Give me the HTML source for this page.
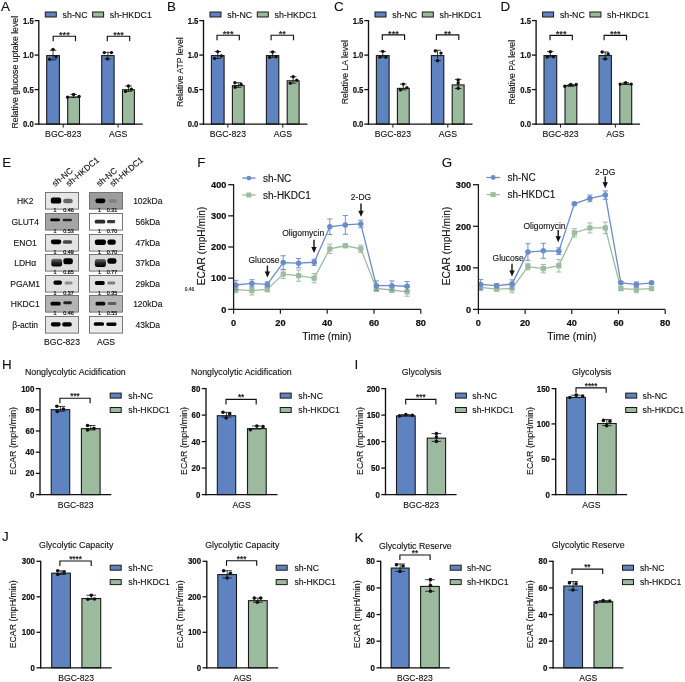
<!DOCTYPE html><html><head><meta charset="utf-8"><style>html,body{margin:0;padding:0;background:#fff;}svg{display:block;will-change:transform;}</style></head><body><svg width="685" height="682" viewBox="0 0 685 682" font-family='"Liberation Sans", sans-serif'>
<rect width="685" height="682" fill="#fff"/>
<rect x="46.70" y="55.60" width="12.70" height="68.50" fill="#5f83c0" stroke="#1a1a1a" stroke-width="1.1"/>
<line x1="53.05" y1="50.27" x2="53.05" y2="59.93" stroke="#1a1a1a" stroke-width="0.85"/>
<line x1="49.75" y1="50.27" x2="56.35" y2="50.27" stroke="#1a1a1a" stroke-width="0.85"/>
<line x1="49.75" y1="59.93" x2="56.35" y2="59.93" stroke="#1a1a1a" stroke-width="0.85"/>
<circle cx="53.05" cy="49.37" r="1.7" fill="#111"/>
<circle cx="49.55" cy="59.24" r="1.7" fill="#111"/>
<circle cx="56.05" cy="57.03" r="1.7" fill="#111"/>
<rect x="67.70" y="97.00" width="11.80" height="27.10" fill="#9cba9d" stroke="#1a1a1a" stroke-width="1.1"/>
<line x1="73.60" y1="94.43" x2="73.60" y2="97.53" stroke="#1a1a1a" stroke-width="0.85"/>
<line x1="70.30" y1="94.43" x2="76.90" y2="94.43" stroke="#1a1a1a" stroke-width="0.85"/>
<line x1="70.30" y1="97.53" x2="76.90" y2="97.53" stroke="#1a1a1a" stroke-width="0.85"/>
<circle cx="73.60" cy="94.43" r="1.7" fill="#111"/>
<circle cx="67.60" cy="97.19" r="1.7" fill="#111"/>
<circle cx="79.10" cy="96.50" r="1.7" fill="#111"/>
<rect x="101.70" y="55.60" width="12.40" height="68.50" fill="#5f83c0" stroke="#1a1a1a" stroke-width="1.1"/>
<line x1="107.90" y1="52.34" x2="107.90" y2="58.89" stroke="#1a1a1a" stroke-width="0.85"/>
<line x1="104.60" y1="52.34" x2="111.20" y2="52.34" stroke="#1a1a1a" stroke-width="0.85"/>
<line x1="104.60" y1="58.89" x2="111.20" y2="58.89" stroke="#1a1a1a" stroke-width="0.85"/>
<circle cx="104.20" cy="52.62" r="1.7" fill="#111"/>
<circle cx="111.50" cy="52.62" r="1.7" fill="#111"/>
<circle cx="107.40" cy="58.89" r="1.7" fill="#111"/>
<rect x="122.50" y="89.75" width="11.90" height="34.34" fill="#9cba9d" stroke="#1a1a1a" stroke-width="1.1"/>
<line x1="128.45" y1="85.94" x2="128.45" y2="91.39" stroke="#1a1a1a" stroke-width="0.85"/>
<line x1="125.15" y1="85.94" x2="131.75" y2="85.94" stroke="#1a1a1a" stroke-width="0.85"/>
<line x1="125.15" y1="91.39" x2="131.75" y2="91.39" stroke="#1a1a1a" stroke-width="0.85"/>
<circle cx="128.45" cy="85.94" r="1.7" fill="#111"/>
<circle cx="125.55" cy="91.39" r="1.7" fill="#111"/>
<circle cx="131.35" cy="89.25" r="1.7" fill="#111"/>
<line x1="38.80" y1="20.00" x2="38.80" y2="124.70" stroke="#111" stroke-width="1.35"/>
<line x1="38.20" y1="124.10" x2="142.80" y2="124.10" stroke="#111" stroke-width="1.35"/>
<line x1="34.60" y1="124.10" x2="38.80" y2="124.10" stroke="#111" stroke-width="1.3"/>
<text transform="translate(33.70 127.30) scale(0.87 1)" font-size="8.9" text-anchor="end" font-weight="bold" stroke="#111" stroke-width="0.18" fill="#111" >0.0</text>
<line x1="34.60" y1="89.60" x2="38.80" y2="89.60" stroke="#111" stroke-width="1.3"/>
<text transform="translate(33.70 92.80) scale(0.87 1)" font-size="8.9" text-anchor="end" font-weight="bold" stroke="#111" stroke-width="0.18" fill="#111" >0.5</text>
<line x1="34.60" y1="55.10" x2="38.80" y2="55.10" stroke="#111" stroke-width="1.3"/>
<text transform="translate(33.70 58.30) scale(0.87 1)" font-size="8.9" text-anchor="end" font-weight="bold" stroke="#111" stroke-width="0.18" fill="#111" >1.0</text>
<line x1="34.60" y1="20.60" x2="38.80" y2="20.60" stroke="#111" stroke-width="1.3"/>
<text transform="translate(33.70 23.80) scale(0.87 1)" font-size="8.9" text-anchor="end" font-weight="bold" stroke="#111" stroke-width="0.18" fill="#111" >1.5</text>
<line x1="63.20" y1="124.10" x2="63.20" y2="127.60" stroke="#1a1a1a" stroke-width="1.0"/>
<text transform="translate(63.20 137.30)" font-size="8.7" text-anchor="middle" stroke="#111" stroke-width="0.12" fill="#111" >BGC-823</text>
<line x1="118.10" y1="124.10" x2="118.10" y2="127.60" stroke="#1a1a1a" stroke-width="1.0"/>
<text transform="translate(118.10 137.30)" font-size="8.7" text-anchor="middle" stroke="#111" stroke-width="0.12" fill="#111" >AGS</text>
<text transform="translate(18.00 72.20) rotate(-90)" font-size="8.7" text-anchor="middle" stroke="#111" stroke-width="0.12" fill="#111" >Relative glucose uptake level</text>
<polyline points="53.20,41.20 53.20,36.20 75.50,36.20 75.50,41.20" fill="none" stroke="#111" stroke-width="1.15"/>
<text transform="translate(64.35 38.10)" font-size="9.2" text-anchor="middle" stroke="#111" stroke-width="0.2" fill="#111" >***</text>
<polyline points="107.30,41.20 107.30,36.20 129.70,36.20 129.70,41.20" fill="none" stroke="#111" stroke-width="1.15"/>
<text transform="translate(118.50 38.10)" font-size="9.2" text-anchor="middle" stroke="#111" stroke-width="0.2" fill="#111" >***</text>
<rect x="45.30" y="12.00" width="11.00" height="5.00" fill="#5f83c0" stroke="#1a1a1a" stroke-width="1.0"/>
<text transform="translate(62.60 17.67)" font-size="8.8" text-anchor="start" stroke="#111" stroke-width="0.12" fill="#111" >sh-NC</text>
<rect x="92.60" y="12.00" width="11.00" height="5.00" fill="#9cba9d" stroke="#1a1a1a" stroke-width="1.0"/>
<text transform="translate(109.80 17.67)" font-size="8.8" text-anchor="start" stroke="#111" stroke-width="0.12" fill="#111" >sh-HKDC1</text>
<rect x="211.40" y="55.60" width="12.70" height="68.50" fill="#5f83c0" stroke="#1a1a1a" stroke-width="1.1"/>
<line x1="217.75" y1="51.58" x2="217.75" y2="58.41" stroke="#1a1a1a" stroke-width="0.85"/>
<line x1="214.45" y1="51.58" x2="221.05" y2="51.58" stroke="#1a1a1a" stroke-width="0.85"/>
<line x1="214.45" y1="58.41" x2="221.05" y2="58.41" stroke="#1a1a1a" stroke-width="0.85"/>
<circle cx="217.75" cy="51.58" r="1.7" fill="#111"/>
<circle cx="214.55" cy="58.41" r="1.7" fill="#111"/>
<circle cx="221.35" cy="56.00" r="1.7" fill="#111"/>
<rect x="232.40" y="85.61" width="11.80" height="38.48" fill="#9cba9d" stroke="#1a1a1a" stroke-width="1.1"/>
<line x1="238.30" y1="82.70" x2="238.30" y2="87.32" stroke="#1a1a1a" stroke-width="0.85"/>
<line x1="235.00" y1="82.70" x2="241.60" y2="82.70" stroke="#1a1a1a" stroke-width="0.85"/>
<line x1="235.00" y1="87.32" x2="241.60" y2="87.32" stroke="#1a1a1a" stroke-width="0.85"/>
<circle cx="234.90" cy="82.70" r="1.7" fill="#111"/>
<circle cx="235.20" cy="87.32" r="1.7" fill="#111"/>
<circle cx="241.10" cy="84.42" r="1.7" fill="#111"/>
<rect x="266.40" y="55.60" width="12.40" height="68.50" fill="#5f83c0" stroke="#1a1a1a" stroke-width="1.1"/>
<line x1="272.60" y1="52.00" x2="272.60" y2="57.38" stroke="#1a1a1a" stroke-width="0.85"/>
<line x1="269.30" y1="52.00" x2="275.90" y2="52.00" stroke="#1a1a1a" stroke-width="0.85"/>
<line x1="269.30" y1="57.38" x2="275.90" y2="57.38" stroke="#1a1a1a" stroke-width="0.85"/>
<circle cx="272.60" cy="52.00" r="1.7" fill="#111"/>
<circle cx="269.60" cy="57.38" r="1.7" fill="#111"/>
<circle cx="276.20" cy="56.69" r="1.7" fill="#111"/>
<rect x="287.20" y="80.78" width="11.90" height="43.31" fill="#9cba9d" stroke="#1a1a1a" stroke-width="1.1"/>
<line x1="293.15" y1="76.77" x2="293.15" y2="83.18" stroke="#1a1a1a" stroke-width="0.85"/>
<line x1="289.85" y1="76.77" x2="296.45" y2="76.77" stroke="#1a1a1a" stroke-width="0.85"/>
<line x1="289.85" y1="83.18" x2="296.45" y2="83.18" stroke="#1a1a1a" stroke-width="0.85"/>
<circle cx="293.15" cy="76.77" r="1.7" fill="#111"/>
<circle cx="290.25" cy="83.18" r="1.7" fill="#111"/>
<circle cx="296.75" cy="80.28" r="1.7" fill="#111"/>
<line x1="203.50" y1="20.00" x2="203.50" y2="124.70" stroke="#111" stroke-width="1.35"/>
<line x1="202.90" y1="124.10" x2="307.50" y2="124.10" stroke="#111" stroke-width="1.35"/>
<line x1="199.30" y1="124.10" x2="203.50" y2="124.10" stroke="#111" stroke-width="1.3"/>
<text transform="translate(198.40 127.30) scale(0.87 1)" font-size="8.9" text-anchor="end" font-weight="bold" stroke="#111" stroke-width="0.18" fill="#111" >0.0</text>
<line x1="199.30" y1="89.60" x2="203.50" y2="89.60" stroke="#111" stroke-width="1.3"/>
<text transform="translate(198.40 92.80) scale(0.87 1)" font-size="8.9" text-anchor="end" font-weight="bold" stroke="#111" stroke-width="0.18" fill="#111" >0.5</text>
<line x1="199.30" y1="55.10" x2="203.50" y2="55.10" stroke="#111" stroke-width="1.3"/>
<text transform="translate(198.40 58.30) scale(0.87 1)" font-size="8.9" text-anchor="end" font-weight="bold" stroke="#111" stroke-width="0.18" fill="#111" >1.0</text>
<line x1="199.30" y1="20.60" x2="203.50" y2="20.60" stroke="#111" stroke-width="1.3"/>
<text transform="translate(198.40 23.80) scale(0.87 1)" font-size="8.9" text-anchor="end" font-weight="bold" stroke="#111" stroke-width="0.18" fill="#111" >1.5</text>
<line x1="227.90" y1="124.10" x2="227.90" y2="127.60" stroke="#1a1a1a" stroke-width="1.0"/>
<text transform="translate(227.90 137.30)" font-size="8.7" text-anchor="middle" stroke="#111" stroke-width="0.12" fill="#111" >BGC-823</text>
<line x1="282.80" y1="124.10" x2="282.80" y2="127.60" stroke="#1a1a1a" stroke-width="1.0"/>
<text transform="translate(282.80 137.30)" font-size="8.7" text-anchor="middle" stroke="#111" stroke-width="0.12" fill="#111" >AGS</text>
<text transform="translate(182.70 72.20) rotate(-90)" font-size="8.7" text-anchor="middle" stroke="#111" stroke-width="0.12" fill="#111" >Relative ATP level</text>
<polyline points="217.00,40.20 217.00,35.20 239.30,35.20 239.30,40.20" fill="none" stroke="#111" stroke-width="1.15"/>
<text transform="translate(228.15 37.10)" font-size="9.2" text-anchor="middle" stroke="#111" stroke-width="0.2" fill="#111" >***</text>
<polyline points="271.10,40.20 271.10,35.20 293.50,35.20 293.50,40.20" fill="none" stroke="#111" stroke-width="1.15"/>
<text transform="translate(282.30 37.10)" font-size="9.2" text-anchor="middle" stroke="#111" stroke-width="0.2" fill="#111" >**</text>
<rect x="210.00" y="12.00" width="11.00" height="5.00" fill="#5f83c0" stroke="#1a1a1a" stroke-width="1.0"/>
<text transform="translate(227.30 17.67)" font-size="8.8" text-anchor="start" stroke="#111" stroke-width="0.12" fill="#111" >sh-NC</text>
<rect x="257.30" y="12.00" width="11.00" height="5.00" fill="#9cba9d" stroke="#1a1a1a" stroke-width="1.0"/>
<text transform="translate(274.50 17.67)" font-size="8.8" text-anchor="start" stroke="#111" stroke-width="0.12" fill="#111" >sh-HKDC1</text>
<rect x="376.40" y="55.60" width="12.70" height="68.50" fill="#5f83c0" stroke="#1a1a1a" stroke-width="1.1"/>
<line x1="382.75" y1="51.37" x2="382.75" y2="57.17" stroke="#1a1a1a" stroke-width="0.85"/>
<line x1="379.45" y1="51.37" x2="386.05" y2="51.37" stroke="#1a1a1a" stroke-width="0.85"/>
<line x1="379.45" y1="57.17" x2="386.05" y2="57.17" stroke="#1a1a1a" stroke-width="0.85"/>
<circle cx="382.75" cy="51.37" r="1.7" fill="#111"/>
<circle cx="379.95" cy="57.17" r="1.7" fill="#111"/>
<circle cx="385.95" cy="57.17" r="1.7" fill="#111"/>
<rect x="397.40" y="88.38" width="11.80" height="35.72" fill="#9cba9d" stroke="#1a1a1a" stroke-width="1.1"/>
<line x1="403.30" y1="84.08" x2="403.30" y2="89.88" stroke="#1a1a1a" stroke-width="0.85"/>
<line x1="400.00" y1="84.08" x2="406.60" y2="84.08" stroke="#1a1a1a" stroke-width="0.85"/>
<line x1="400.00" y1="89.88" x2="406.60" y2="89.88" stroke="#1a1a1a" stroke-width="0.85"/>
<circle cx="403.30" cy="84.08" r="1.7" fill="#111"/>
<circle cx="400.40" cy="89.88" r="1.7" fill="#111"/>
<circle cx="406.90" cy="87.67" r="1.7" fill="#111"/>
<rect x="431.40" y="55.60" width="12.40" height="68.50" fill="#5f83c0" stroke="#1a1a1a" stroke-width="1.1"/>
<line x1="437.60" y1="50.27" x2="437.60" y2="60.62" stroke="#1a1a1a" stroke-width="0.85"/>
<line x1="434.30" y1="50.27" x2="440.90" y2="50.27" stroke="#1a1a1a" stroke-width="0.85"/>
<line x1="434.30" y1="60.62" x2="440.90" y2="60.62" stroke="#1a1a1a" stroke-width="0.85"/>
<circle cx="435.30" cy="50.89" r="1.7" fill="#111"/>
<circle cx="441.00" cy="53.10" r="1.7" fill="#111"/>
<circle cx="437.60" cy="60.69" r="1.7" fill="#111"/>
<rect x="452.20" y="84.92" width="11.90" height="39.17" fill="#9cba9d" stroke="#1a1a1a" stroke-width="1.1"/>
<line x1="458.15" y1="79.39" x2="458.15" y2="88.50" stroke="#1a1a1a" stroke-width="0.85"/>
<line x1="454.85" y1="79.39" x2="461.45" y2="79.39" stroke="#1a1a1a" stroke-width="0.85"/>
<line x1="454.85" y1="88.50" x2="461.45" y2="88.50" stroke="#1a1a1a" stroke-width="0.85"/>
<circle cx="458.15" cy="79.94" r="1.7" fill="#111"/>
<circle cx="458.15" cy="82.91" r="1.7" fill="#111"/>
<circle cx="458.15" cy="88.22" r="1.7" fill="#111"/>
<line x1="368.50" y1="20.00" x2="368.50" y2="124.70" stroke="#111" stroke-width="1.35"/>
<line x1="367.90" y1="124.10" x2="472.50" y2="124.10" stroke="#111" stroke-width="1.35"/>
<line x1="364.30" y1="124.10" x2="368.50" y2="124.10" stroke="#111" stroke-width="1.3"/>
<text transform="translate(363.40 127.30) scale(0.87 1)" font-size="8.9" text-anchor="end" font-weight="bold" stroke="#111" stroke-width="0.18" fill="#111" >0.0</text>
<line x1="364.30" y1="89.60" x2="368.50" y2="89.60" stroke="#111" stroke-width="1.3"/>
<text transform="translate(363.40 92.80) scale(0.87 1)" font-size="8.9" text-anchor="end" font-weight="bold" stroke="#111" stroke-width="0.18" fill="#111" >0.5</text>
<line x1="364.30" y1="55.10" x2="368.50" y2="55.10" stroke="#111" stroke-width="1.3"/>
<text transform="translate(363.40 58.30) scale(0.87 1)" font-size="8.9" text-anchor="end" font-weight="bold" stroke="#111" stroke-width="0.18" fill="#111" >1.0</text>
<line x1="364.30" y1="20.60" x2="368.50" y2="20.60" stroke="#111" stroke-width="1.3"/>
<text transform="translate(363.40 23.80) scale(0.87 1)" font-size="8.9" text-anchor="end" font-weight="bold" stroke="#111" stroke-width="0.18" fill="#111" >1.5</text>
<line x1="392.90" y1="124.10" x2="392.90" y2="127.60" stroke="#1a1a1a" stroke-width="1.0"/>
<text transform="translate(392.90 137.30)" font-size="8.7" text-anchor="middle" stroke="#111" stroke-width="0.12" fill="#111" >BGC-823</text>
<line x1="447.80" y1="124.10" x2="447.80" y2="127.60" stroke="#1a1a1a" stroke-width="1.0"/>
<text transform="translate(447.80 137.30)" font-size="8.7" text-anchor="middle" stroke="#111" stroke-width="0.12" fill="#111" >AGS</text>
<text transform="translate(347.70 72.20) rotate(-90)" font-size="8.7" text-anchor="middle" stroke="#111" stroke-width="0.12" fill="#111" >Relative LA level</text>
<polyline points="382.30,39.90 382.30,34.90 404.60,34.90 404.60,39.90" fill="none" stroke="#111" stroke-width="1.15"/>
<text transform="translate(393.45 36.80)" font-size="9.2" text-anchor="middle" stroke="#111" stroke-width="0.2" fill="#111" >***</text>
<polyline points="436.40,39.90 436.40,34.90 458.80,34.90 458.80,39.90" fill="none" stroke="#111" stroke-width="1.15"/>
<text transform="translate(447.60 36.80)" font-size="9.2" text-anchor="middle" stroke="#111" stroke-width="0.2" fill="#111" >**</text>
<rect x="375.00" y="12.00" width="11.00" height="5.00" fill="#5f83c0" stroke="#1a1a1a" stroke-width="1.0"/>
<text transform="translate(392.30 17.67)" font-size="8.8" text-anchor="start" stroke="#111" stroke-width="0.12" fill="#111" >sh-NC</text>
<rect x="422.30" y="12.00" width="11.00" height="5.00" fill="#9cba9d" stroke="#1a1a1a" stroke-width="1.0"/>
<text transform="translate(439.50 17.67)" font-size="8.8" text-anchor="start" stroke="#111" stroke-width="0.12" fill="#111" >sh-HKDC1</text>
<rect x="544.00" y="55.60" width="12.70" height="68.50" fill="#5f83c0" stroke="#1a1a1a" stroke-width="1.1"/>
<line x1="550.35" y1="51.65" x2="550.35" y2="57.03" stroke="#1a1a1a" stroke-width="0.85"/>
<line x1="547.05" y1="51.65" x2="553.65" y2="51.65" stroke="#1a1a1a" stroke-width="0.85"/>
<line x1="547.05" y1="57.03" x2="553.65" y2="57.03" stroke="#1a1a1a" stroke-width="0.85"/>
<circle cx="550.35" cy="51.65" r="1.7" fill="#111"/>
<circle cx="547.25" cy="57.03" r="1.7" fill="#111"/>
<circle cx="553.45" cy="56.69" r="1.7" fill="#111"/>
<rect x="565.00" y="85.61" width="11.80" height="38.48" fill="#9cba9d" stroke="#1a1a1a" stroke-width="1.1"/>
<line x1="570.90" y1="84.42" x2="570.90" y2="86.29" stroke="#1a1a1a" stroke-width="0.85"/>
<line x1="567.60" y1="84.42" x2="574.20" y2="84.42" stroke="#1a1a1a" stroke-width="0.85"/>
<line x1="567.60" y1="86.29" x2="574.20" y2="86.29" stroke="#1a1a1a" stroke-width="0.85"/>
<circle cx="564.80" cy="86.29" r="1.7" fill="#111"/>
<circle cx="570.70" cy="84.42" r="1.7" fill="#111"/>
<circle cx="576.20" cy="84.42" r="1.7" fill="#111"/>
<rect x="599.00" y="55.60" width="12.40" height="68.50" fill="#5f83c0" stroke="#1a1a1a" stroke-width="1.1"/>
<line x1="605.20" y1="52.00" x2="605.20" y2="58.89" stroke="#1a1a1a" stroke-width="0.85"/>
<line x1="601.90" y1="52.00" x2="608.50" y2="52.00" stroke="#1a1a1a" stroke-width="0.85"/>
<line x1="601.90" y1="58.89" x2="608.50" y2="58.89" stroke="#1a1a1a" stroke-width="0.85"/>
<circle cx="602.10" cy="52.00" r="1.7" fill="#111"/>
<circle cx="608.20" cy="54.00" r="1.7" fill="#111"/>
<circle cx="605.20" cy="58.89" r="1.7" fill="#111"/>
<rect x="619.80" y="84.23" width="11.90" height="39.86" fill="#9cba9d" stroke="#1a1a1a" stroke-width="1.1"/>
<line x1="625.75" y1="82.70" x2="625.75" y2="84.08" stroke="#1a1a1a" stroke-width="0.85"/>
<line x1="622.45" y1="82.70" x2="629.05" y2="82.70" stroke="#1a1a1a" stroke-width="0.85"/>
<line x1="622.45" y1="84.08" x2="629.05" y2="84.08" stroke="#1a1a1a" stroke-width="0.85"/>
<circle cx="620.15" cy="84.08" r="1.7" fill="#111"/>
<circle cx="625.55" cy="82.70" r="1.7" fill="#111"/>
<circle cx="631.15" cy="84.08" r="1.7" fill="#111"/>
<line x1="536.10" y1="20.00" x2="536.10" y2="124.70" stroke="#111" stroke-width="1.35"/>
<line x1="535.50" y1="124.10" x2="640.10" y2="124.10" stroke="#111" stroke-width="1.35"/>
<line x1="531.90" y1="124.10" x2="536.10" y2="124.10" stroke="#111" stroke-width="1.3"/>
<text transform="translate(531.00 127.30) scale(0.87 1)" font-size="8.9" text-anchor="end" font-weight="bold" stroke="#111" stroke-width="0.18" fill="#111" >0.0</text>
<line x1="531.90" y1="89.60" x2="536.10" y2="89.60" stroke="#111" stroke-width="1.3"/>
<text transform="translate(531.00 92.80) scale(0.87 1)" font-size="8.9" text-anchor="end" font-weight="bold" stroke="#111" stroke-width="0.18" fill="#111" >0.5</text>
<line x1="531.90" y1="55.10" x2="536.10" y2="55.10" stroke="#111" stroke-width="1.3"/>
<text transform="translate(531.00 58.30) scale(0.87 1)" font-size="8.9" text-anchor="end" font-weight="bold" stroke="#111" stroke-width="0.18" fill="#111" >1.0</text>
<line x1="531.90" y1="20.60" x2="536.10" y2="20.60" stroke="#111" stroke-width="1.3"/>
<text transform="translate(531.00 23.80) scale(0.87 1)" font-size="8.9" text-anchor="end" font-weight="bold" stroke="#111" stroke-width="0.18" fill="#111" >1.5</text>
<line x1="560.50" y1="124.10" x2="560.50" y2="127.60" stroke="#1a1a1a" stroke-width="1.0"/>
<text transform="translate(560.50 137.30)" font-size="8.7" text-anchor="middle" stroke="#111" stroke-width="0.12" fill="#111" >BGC-823</text>
<line x1="615.40" y1="124.10" x2="615.40" y2="127.60" stroke="#1a1a1a" stroke-width="1.0"/>
<text transform="translate(615.40 137.30)" font-size="8.7" text-anchor="middle" stroke="#111" stroke-width="0.12" fill="#111" >AGS</text>
<text transform="translate(515.30 72.20) rotate(-90)" font-size="8.7" text-anchor="middle" stroke="#111" stroke-width="0.12" fill="#111" >Relative PA level</text>
<polyline points="550.00,40.30 550.00,35.30 572.30,35.30 572.30,40.30" fill="none" stroke="#111" stroke-width="1.15"/>
<text transform="translate(561.15 37.20)" font-size="9.2" text-anchor="middle" stroke="#111" stroke-width="0.2" fill="#111" >***</text>
<polyline points="604.10,40.30 604.10,35.30 626.50,35.30 626.50,40.30" fill="none" stroke="#111" stroke-width="1.15"/>
<text transform="translate(615.30 37.20)" font-size="9.2" text-anchor="middle" stroke="#111" stroke-width="0.2" fill="#111" >***</text>
<rect x="542.60" y="12.00" width="11.00" height="5.00" fill="#5f83c0" stroke="#1a1a1a" stroke-width="1.0"/>
<text transform="translate(559.90 17.67)" font-size="8.8" text-anchor="start" stroke="#111" stroke-width="0.12" fill="#111" >sh-NC</text>
<rect x="589.90" y="12.00" width="11.00" height="5.00" fill="#9cba9d" stroke="#1a1a1a" stroke-width="1.0"/>
<text transform="translate(607.10 17.67)" font-size="8.8" text-anchor="start" stroke="#111" stroke-width="0.12" fill="#111" >sh-HKDC1</text>
<rect x="51.20" y="409.66" width="18.50" height="84.94" fill="#5f83c0" stroke="#1a1a1a" stroke-width="1.1"/>
<line x1="60.45" y1="406.41" x2="60.45" y2="411.28" stroke="#1a1a1a" stroke-width="0.85"/>
<line x1="55.65" y1="406.41" x2="65.25" y2="406.41" stroke="#1a1a1a" stroke-width="0.85"/>
<line x1="55.65" y1="411.28" x2="65.25" y2="411.28" stroke="#1a1a1a" stroke-width="0.85"/>
<circle cx="56.85" cy="406.20" r="1.8" fill="#111"/>
<circle cx="63.45" cy="409.06" r="1.8" fill="#111"/>
<circle cx="57.25" cy="411.50" r="1.8" fill="#111"/>
<rect x="81.40" y="428.64" width="18.70" height="65.96" fill="#9cba9d" stroke="#1a1a1a" stroke-width="1.1"/>
<line x1="90.75" y1="425.49" x2="90.75" y2="429.94" stroke="#1a1a1a" stroke-width="0.85"/>
<line x1="85.95" y1="425.49" x2="95.55" y2="425.49" stroke="#1a1a1a" stroke-width="0.85"/>
<line x1="85.95" y1="429.94" x2="95.55" y2="429.94" stroke="#1a1a1a" stroke-width="0.85"/>
<circle cx="87.55" cy="425.49" r="1.8" fill="#111"/>
<circle cx="93.95" cy="428.35" r="1.8" fill="#111"/>
<circle cx="87.55" cy="429.94" r="1.8" fill="#111"/>
<line x1="40.00" y1="388.00" x2="40.00" y2="495.20" stroke="#111" stroke-width="1.35"/>
<line x1="39.40" y1="494.60" x2="111.30" y2="494.60" stroke="#111" stroke-width="1.35"/>
<line x1="35.80" y1="494.60" x2="40.00" y2="494.60" stroke="#111" stroke-width="1.3"/>
<text transform="translate(34.30 497.62) scale(0.94 1)" font-size="8.4" text-anchor="end" font-weight="bold" stroke="#111" stroke-width="0.2" fill="#111" >0</text>
<line x1="35.80" y1="473.40" x2="40.00" y2="473.40" stroke="#111" stroke-width="1.3"/>
<text transform="translate(34.30 476.42) scale(0.94 1)" font-size="8.4" text-anchor="end" font-weight="bold" stroke="#111" stroke-width="0.2" fill="#111" >20</text>
<line x1="35.80" y1="452.20" x2="40.00" y2="452.20" stroke="#111" stroke-width="1.3"/>
<text transform="translate(34.30 455.22) scale(0.94 1)" font-size="8.4" text-anchor="end" font-weight="bold" stroke="#111" stroke-width="0.2" fill="#111" >40</text>
<line x1="35.80" y1="431.00" x2="40.00" y2="431.00" stroke="#111" stroke-width="1.3"/>
<text transform="translate(34.30 434.02) scale(0.94 1)" font-size="8.4" text-anchor="end" font-weight="bold" stroke="#111" stroke-width="0.2" fill="#111" >60</text>
<line x1="35.80" y1="409.80" x2="40.00" y2="409.80" stroke="#111" stroke-width="1.3"/>
<text transform="translate(34.30 412.82) scale(0.94 1)" font-size="8.4" text-anchor="end" font-weight="bold" stroke="#111" stroke-width="0.2" fill="#111" >80</text>
<line x1="35.80" y1="388.60" x2="40.00" y2="388.60" stroke="#111" stroke-width="1.3"/>
<text transform="translate(34.30 391.62) scale(0.94 1)" font-size="8.4" text-anchor="end" font-weight="bold" stroke="#111" stroke-width="0.2" fill="#111" >100</text>
<line x1="75.55" y1="494.60" x2="75.55" y2="494.60" stroke="#1a1a1a" stroke-width="1.0"/>
<text transform="translate(75.55 508.20)" font-size="8.6" text-anchor="middle" stroke="#111" stroke-width="0.12" fill="#111" >BGC-823</text>
<text transform="translate(16.20 441.00) rotate(-90)" font-size="8.8" text-anchor="middle" stroke="#111" stroke-width="0.12" fill="#111" >ECAR (mpH/min)</text>
<polyline points="59.90,403.20 59.90,398.20 90.10,398.20 90.10,403.20" fill="none" stroke="#111" stroke-width="1.15"/>
<text transform="translate(75.00 399.10)" font-size="8.2" text-anchor="middle" stroke="#111" stroke-width="0.2" fill="#111" >***</text>
<rect x="110.20" y="393.10" width="11.00" height="5.00" fill="#5f83c0" stroke="#1a1a1a" stroke-width="1.0"/>
<text transform="translate(128.30 398.73)" font-size="8.7" text-anchor="start" stroke="#111" stroke-width="0.12" fill="#111" >sh-NC</text>
<rect x="110.20" y="407.50" width="11.00" height="5.00" fill="#9cba9d" stroke="#1a1a1a" stroke-width="1.0"/>
<text transform="translate(128.30 413.13)" font-size="8.7" text-anchor="start" stroke="#111" stroke-width="0.12" fill="#111" >sh-HKDC1</text>
<text transform="translate(75.30 375.40)" font-size="8.8" text-anchor="middle" stroke="#111" stroke-width="0.12" fill="#111" >Nonglycolytic Acidification</text>
<rect x="217.30" y="415.73" width="18.40" height="78.87" fill="#5f83c0" stroke="#1a1a1a" stroke-width="1.1"/>
<line x1="226.50" y1="412.32" x2="226.50" y2="417.22" stroke="#1a1a1a" stroke-width="0.85"/>
<line x1="221.70" y1="412.32" x2="231.30" y2="412.32" stroke="#1a1a1a" stroke-width="0.85"/>
<line x1="221.70" y1="417.22" x2="231.30" y2="417.22" stroke="#1a1a1a" stroke-width="0.85"/>
<circle cx="223.00" cy="412.32" r="1.8" fill="#111"/>
<circle cx="229.70" cy="413.78" r="1.8" fill="#111"/>
<circle cx="226.20" cy="418.02" r="1.8" fill="#111"/>
<rect x="247.50" y="428.59" width="18.70" height="66.01" fill="#9cba9d" stroke="#1a1a1a" stroke-width="1.1"/>
<line x1="256.85" y1="425.97" x2="256.85" y2="429.01" stroke="#1a1a1a" stroke-width="0.85"/>
<line x1="252.05" y1="425.97" x2="261.65" y2="425.97" stroke="#1a1a1a" stroke-width="0.85"/>
<line x1="252.05" y1="429.01" x2="261.65" y2="429.01" stroke="#1a1a1a" stroke-width="0.85"/>
<circle cx="250.35" cy="429.68" r="1.8" fill="#111"/>
<circle cx="256.85" cy="425.97" r="1.8" fill="#111"/>
<circle cx="263.05" cy="426.63" r="1.8" fill="#111"/>
<line x1="206.00" y1="388.00" x2="206.00" y2="495.20" stroke="#111" stroke-width="1.35"/>
<line x1="205.40" y1="494.60" x2="277.50" y2="494.60" stroke="#111" stroke-width="1.35"/>
<line x1="201.80" y1="494.60" x2="206.00" y2="494.60" stroke="#111" stroke-width="1.3"/>
<text transform="translate(200.30 497.62) scale(0.94 1)" font-size="8.4" text-anchor="end" font-weight="bold" stroke="#111" stroke-width="0.2" fill="#111" >0</text>
<line x1="201.80" y1="468.10" x2="206.00" y2="468.10" stroke="#111" stroke-width="1.3"/>
<text transform="translate(200.30 471.12) scale(0.94 1)" font-size="8.4" text-anchor="end" font-weight="bold" stroke="#111" stroke-width="0.2" fill="#111" >20</text>
<line x1="201.80" y1="441.60" x2="206.00" y2="441.60" stroke="#111" stroke-width="1.3"/>
<text transform="translate(200.30 444.62) scale(0.94 1)" font-size="8.4" text-anchor="end" font-weight="bold" stroke="#111" stroke-width="0.2" fill="#111" >40</text>
<line x1="201.80" y1="415.10" x2="206.00" y2="415.10" stroke="#111" stroke-width="1.3"/>
<text transform="translate(200.30 418.12) scale(0.94 1)" font-size="8.4" text-anchor="end" font-weight="bold" stroke="#111" stroke-width="0.2" fill="#111" >60</text>
<line x1="201.80" y1="388.60" x2="206.00" y2="388.60" stroke="#111" stroke-width="1.3"/>
<text transform="translate(200.30 391.62) scale(0.94 1)" font-size="8.4" text-anchor="end" font-weight="bold" stroke="#111" stroke-width="0.2" fill="#111" >80</text>
<line x1="241.60" y1="494.60" x2="241.60" y2="494.60" stroke="#1a1a1a" stroke-width="1.0"/>
<text transform="translate(241.60 508.20)" font-size="8.6" text-anchor="middle" stroke="#111" stroke-width="0.12" fill="#111" >AGS</text>
<text transform="translate(186.70 441.00) rotate(-90)" font-size="8.8" text-anchor="middle" stroke="#111" stroke-width="0.12" fill="#111" >ECAR (mpH/min)</text>
<polyline points="226.00,404.40 226.00,399.40 256.20,399.40 256.20,404.40" fill="none" stroke="#111" stroke-width="1.15"/>
<text transform="translate(241.10 400.30)" font-size="8.2" text-anchor="middle" stroke="#111" stroke-width="0.2" fill="#111" >**</text>
<rect x="280.20" y="393.10" width="11.00" height="5.00" fill="#5f83c0" stroke="#1a1a1a" stroke-width="1.0"/>
<text transform="translate(298.30 398.73)" font-size="8.7" text-anchor="start" stroke="#111" stroke-width="0.12" fill="#111" >sh-NC</text>
<rect x="280.20" y="407.50" width="11.00" height="5.00" fill="#9cba9d" stroke="#1a1a1a" stroke-width="1.0"/>
<text transform="translate(298.30 413.13)" font-size="8.7" text-anchor="start" stroke="#111" stroke-width="0.12" fill="#111" >sh-HKDC1</text>
<text transform="translate(241.30 375.40)" font-size="8.8" text-anchor="middle" stroke="#111" stroke-width="0.12" fill="#111" >Nonglycolytic Acidification</text>
<rect x="396.50" y="415.87" width="18.70" height="78.74" fill="#5f83c0" stroke="#1a1a1a" stroke-width="1.1"/>
<line x1="405.85" y1="414.57" x2="405.85" y2="415.90" stroke="#1a1a1a" stroke-width="0.85"/>
<line x1="401.05" y1="414.57" x2="410.65" y2="414.57" stroke="#1a1a1a" stroke-width="0.85"/>
<line x1="401.05" y1="415.90" x2="410.65" y2="415.90" stroke="#1a1a1a" stroke-width="0.85"/>
<circle cx="399.55" cy="415.90" r="1.8" fill="#111"/>
<circle cx="405.85" cy="414.57" r="1.8" fill="#111"/>
<circle cx="412.35" cy="415.37" r="1.8" fill="#111"/>
<rect x="427.20" y="438.12" width="18.40" height="56.48" fill="#9cba9d" stroke="#1a1a1a" stroke-width="1.1"/>
<line x1="436.40" y1="433.60" x2="436.40" y2="441.39" stroke="#1a1a1a" stroke-width="0.85"/>
<line x1="431.60" y1="433.60" x2="441.20" y2="433.60" stroke="#1a1a1a" stroke-width="0.85"/>
<line x1="431.60" y1="441.39" x2="441.20" y2="441.39" stroke="#1a1a1a" stroke-width="0.85"/>
<circle cx="436.40" cy="433.60" r="1.8" fill="#111"/>
<circle cx="436.40" cy="436.99" r="1.8" fill="#111"/>
<circle cx="436.40" cy="441.39" r="1.8" fill="#111"/>
<line x1="385.50" y1="388.00" x2="385.50" y2="495.20" stroke="#111" stroke-width="1.35"/>
<line x1="384.90" y1="494.60" x2="456.60" y2="494.60" stroke="#111" stroke-width="1.35"/>
<line x1="381.30" y1="494.60" x2="385.50" y2="494.60" stroke="#111" stroke-width="1.3"/>
<text transform="translate(379.80 497.62) scale(0.94 1)" font-size="8.4" text-anchor="end" font-weight="bold" stroke="#111" stroke-width="0.2" fill="#111" >0</text>
<line x1="381.30" y1="468.10" x2="385.50" y2="468.10" stroke="#111" stroke-width="1.3"/>
<text transform="translate(379.80 471.12) scale(0.94 1)" font-size="8.4" text-anchor="end" font-weight="bold" stroke="#111" stroke-width="0.2" fill="#111" >50</text>
<line x1="381.30" y1="441.60" x2="385.50" y2="441.60" stroke="#111" stroke-width="1.3"/>
<text transform="translate(379.80 444.62) scale(0.94 1)" font-size="8.4" text-anchor="end" font-weight="bold" stroke="#111" stroke-width="0.2" fill="#111" >100</text>
<line x1="381.30" y1="415.10" x2="385.50" y2="415.10" stroke="#111" stroke-width="1.3"/>
<text transform="translate(379.80 418.12) scale(0.94 1)" font-size="8.4" text-anchor="end" font-weight="bold" stroke="#111" stroke-width="0.2" fill="#111" >150</text>
<line x1="381.30" y1="388.60" x2="385.50" y2="388.60" stroke="#111" stroke-width="1.3"/>
<text transform="translate(379.80 391.62) scale(0.94 1)" font-size="8.4" text-anchor="end" font-weight="bold" stroke="#111" stroke-width="0.2" fill="#111" >200</text>
<line x1="421.20" y1="494.60" x2="421.20" y2="494.60" stroke="#1a1a1a" stroke-width="1.0"/>
<text transform="translate(421.20 508.20)" font-size="8.6" text-anchor="middle" stroke="#111" stroke-width="0.12" fill="#111" >BGC-823</text>
<text transform="translate(363.20 441.00) rotate(-90)" font-size="8.8" text-anchor="middle" stroke="#111" stroke-width="0.12" fill="#111" >ECAR (mpH/min)</text>
<polyline points="405.70,404.40 405.70,399.40 435.90,399.40 435.90,404.40" fill="none" stroke="#111" stroke-width="1.15"/>
<text transform="translate(420.80 400.30)" font-size="8.2" text-anchor="middle" stroke="#111" stroke-width="0.2" fill="#111" >***</text>
<rect x="455.40" y="393.10" width="11.00" height="5.00" fill="#5f83c0" stroke="#1a1a1a" stroke-width="1.0"/>
<text transform="translate(472.30 398.73)" font-size="8.7" text-anchor="start" stroke="#111" stroke-width="0.12" fill="#111" >sh-NC</text>
<rect x="455.40" y="407.50" width="11.00" height="5.00" fill="#9cba9d" stroke="#1a1a1a" stroke-width="1.0"/>
<text transform="translate(472.30 413.13)" font-size="8.7" text-anchor="start" stroke="#111" stroke-width="0.12" fill="#111" >sh-HKDC1</text>
<text transform="translate(421.50 375.40)" font-size="8.8" text-anchor="middle" stroke="#111" stroke-width="0.12" fill="#111" >Glycolysis</text>
<rect x="566.70" y="397.37" width="18.70" height="97.23" fill="#5f83c0" stroke="#1a1a1a" stroke-width="1.1"/>
<line x1="576.05" y1="395.17" x2="576.05" y2="397.57" stroke="#1a1a1a" stroke-width="0.85"/>
<line x1="571.25" y1="395.17" x2="580.85" y2="395.17" stroke="#1a1a1a" stroke-width="0.85"/>
<line x1="571.25" y1="397.57" x2="580.85" y2="397.57" stroke="#1a1a1a" stroke-width="0.85"/>
<circle cx="569.85" cy="397.57" r="1.8" fill="#111"/>
<circle cx="576.25" cy="395.17" r="1.8" fill="#111"/>
<circle cx="582.65" cy="396.09" r="1.8" fill="#111"/>
<rect x="597.50" y="423.51" width="18.70" height="71.09" fill="#9cba9d" stroke="#1a1a1a" stroke-width="1.1"/>
<line x1="606.85" y1="419.55" x2="606.85" y2="425.63" stroke="#1a1a1a" stroke-width="0.85"/>
<line x1="602.05" y1="419.55" x2="611.65" y2="419.55" stroke="#1a1a1a" stroke-width="0.85"/>
<line x1="602.05" y1="425.63" x2="611.65" y2="425.63" stroke="#1a1a1a" stroke-width="0.85"/>
<circle cx="603.45" cy="420.40" r="1.8" fill="#111"/>
<circle cx="609.95" cy="421.25" r="1.8" fill="#111"/>
<circle cx="606.65" cy="425.63" r="1.8" fill="#111"/>
<line x1="555.70" y1="388.00" x2="555.70" y2="495.20" stroke="#111" stroke-width="1.35"/>
<line x1="555.10" y1="494.60" x2="627.20" y2="494.60" stroke="#111" stroke-width="1.35"/>
<line x1="551.50" y1="494.60" x2="555.70" y2="494.60" stroke="#111" stroke-width="1.3"/>
<text transform="translate(550.00 497.62) scale(0.94 1)" font-size="8.4" text-anchor="end" font-weight="bold" stroke="#111" stroke-width="0.2" fill="#111" >0</text>
<line x1="551.50" y1="459.27" x2="555.70" y2="459.27" stroke="#111" stroke-width="1.3"/>
<text transform="translate(550.00 462.29) scale(0.94 1)" font-size="8.4" text-anchor="end" font-weight="bold" stroke="#111" stroke-width="0.2" fill="#111" >50</text>
<line x1="551.50" y1="423.93" x2="555.70" y2="423.93" stroke="#111" stroke-width="1.3"/>
<text transform="translate(550.00 426.96) scale(0.94 1)" font-size="8.4" text-anchor="end" font-weight="bold" stroke="#111" stroke-width="0.2" fill="#111" >100</text>
<line x1="551.50" y1="388.60" x2="555.70" y2="388.60" stroke="#111" stroke-width="1.3"/>
<text transform="translate(550.00 391.62) scale(0.94 1)" font-size="8.4" text-anchor="end" font-weight="bold" stroke="#111" stroke-width="0.2" fill="#111" >150</text>
<line x1="591.45" y1="494.60" x2="591.45" y2="494.60" stroke="#1a1a1a" stroke-width="1.0"/>
<text transform="translate(591.45 508.20)" font-size="8.6" text-anchor="middle" stroke="#111" stroke-width="0.12" fill="#111" >AGS</text>
<text transform="translate(533.40 441.00) rotate(-90)" font-size="8.8" text-anchor="middle" stroke="#111" stroke-width="0.12" fill="#111" >ECAR (mpH/min)</text>
<polyline points="576.00,392.80 576.00,387.80 606.20,387.80 606.20,392.80" fill="none" stroke="#111" stroke-width="1.15"/>
<text transform="translate(591.10 388.70)" font-size="8.2" text-anchor="middle" stroke="#111" stroke-width="0.2" fill="#111" >****</text>
<rect x="625.70" y="393.10" width="11.00" height="5.00" fill="#5f83c0" stroke="#1a1a1a" stroke-width="1.0"/>
<text transform="translate(642.60 398.73)" font-size="8.7" text-anchor="start" stroke="#111" stroke-width="0.12" fill="#111" >sh-NC</text>
<rect x="625.70" y="407.50" width="11.00" height="5.00" fill="#9cba9d" stroke="#1a1a1a" stroke-width="1.0"/>
<text transform="translate(642.60 413.13)" font-size="8.7" text-anchor="start" stroke="#111" stroke-width="0.12" fill="#111" >sh-HKDC1</text>
<text transform="translate(591.70 375.40)" font-size="8.8" text-anchor="middle" stroke="#111" stroke-width="0.12" fill="#111" >Glycolysis</text>
<rect x="51.70" y="573.16" width="18.70" height="94.64" fill="#5f83c0" stroke="#1a1a1a" stroke-width="1.1"/>
<line x1="61.05" y1="570.88" x2="61.05" y2="574.51" stroke="#1a1a1a" stroke-width="0.85"/>
<line x1="56.25" y1="570.88" x2="65.85" y2="570.88" stroke="#1a1a1a" stroke-width="0.85"/>
<line x1="56.25" y1="574.51" x2="65.85" y2="574.51" stroke="#1a1a1a" stroke-width="0.85"/>
<circle cx="57.75" cy="570.71" r="1.8" fill="#111"/>
<circle cx="64.05" cy="571.99" r="1.8" fill="#111"/>
<circle cx="57.75" cy="574.51" r="1.8" fill="#111"/>
<rect x="81.90" y="598.54" width="18.80" height="69.26" fill="#9cba9d" stroke="#1a1a1a" stroke-width="1.1"/>
<line x1="91.30" y1="595.20" x2="91.30" y2="599.28" stroke="#1a1a1a" stroke-width="0.85"/>
<line x1="86.50" y1="595.20" x2="96.10" y2="595.20" stroke="#1a1a1a" stroke-width="0.85"/>
<line x1="86.50" y1="599.28" x2="96.10" y2="599.28" stroke="#1a1a1a" stroke-width="0.85"/>
<circle cx="91.30" cy="595.20" r="1.8" fill="#111"/>
<circle cx="87.90" cy="599.21" r="1.8" fill="#111"/>
<circle cx="94.50" cy="599.00" r="1.8" fill="#111"/>
<line x1="40.70" y1="560.70" x2="40.70" y2="668.40" stroke="#111" stroke-width="1.35"/>
<line x1="40.10" y1="667.80" x2="111.70" y2="667.80" stroke="#111" stroke-width="1.35"/>
<line x1="36.50" y1="667.80" x2="40.70" y2="667.80" stroke="#111" stroke-width="1.3"/>
<text transform="translate(35.00 670.82) scale(0.94 1)" font-size="8.4" text-anchor="end" font-weight="bold" stroke="#111" stroke-width="0.2" fill="#111" >0</text>
<line x1="36.50" y1="632.30" x2="40.70" y2="632.30" stroke="#111" stroke-width="1.3"/>
<text transform="translate(35.00 635.32) scale(0.94 1)" font-size="8.4" text-anchor="end" font-weight="bold" stroke="#111" stroke-width="0.2" fill="#111" >100</text>
<line x1="36.50" y1="596.80" x2="40.70" y2="596.80" stroke="#111" stroke-width="1.3"/>
<text transform="translate(35.00 599.82) scale(0.94 1)" font-size="8.4" text-anchor="end" font-weight="bold" stroke="#111" stroke-width="0.2" fill="#111" >200</text>
<line x1="36.50" y1="561.30" x2="40.70" y2="561.30" stroke="#111" stroke-width="1.3"/>
<text transform="translate(35.00 564.32) scale(0.94 1)" font-size="8.4" text-anchor="end" font-weight="bold" stroke="#111" stroke-width="0.2" fill="#111" >300</text>
<line x1="76.15" y1="667.80" x2="76.15" y2="667.80" stroke="#1a1a1a" stroke-width="1.0"/>
<text transform="translate(76.15 680.80)" font-size="8.6" text-anchor="middle" stroke="#111" stroke-width="0.12" fill="#111" >BGC-823</text>
<text transform="translate(16.40 614.40) rotate(-90)" font-size="8.8" text-anchor="middle" stroke="#111" stroke-width="0.12" fill="#111" >ECAR (mpH/min)</text>
<polyline points="59.90,566.00 59.90,561.00 91.20,561.00 91.20,566.00" fill="none" stroke="#111" stroke-width="1.15"/>
<text transform="translate(75.55 561.90)" font-size="8.2" text-anchor="middle" stroke="#111" stroke-width="0.2" fill="#111" >****</text>
<rect x="110.20" y="565.20" width="11.00" height="5.00" fill="#5f83c0" stroke="#1a1a1a" stroke-width="1.0"/>
<text transform="translate(128.30 570.83)" font-size="8.7" text-anchor="start" stroke="#111" stroke-width="0.12" fill="#111" >sh-NC</text>
<rect x="110.20" y="579.60" width="11.00" height="5.00" fill="#9cba9d" stroke="#1a1a1a" stroke-width="1.0"/>
<text transform="translate(128.30 585.23)" font-size="8.7" text-anchor="start" stroke="#111" stroke-width="0.12" fill="#111" >sh-HKDC1</text>
<text transform="translate(76.20 548.20)" font-size="8.8" text-anchor="middle" stroke="#111" stroke-width="0.12" fill="#111" >Glycolytic Capacity</text>
<rect x="217.80" y="574.58" width="18.70" height="93.22" fill="#5f83c0" stroke="#1a1a1a" stroke-width="1.1"/>
<line x1="227.15" y1="570.71" x2="227.15" y2="577.98" stroke="#1a1a1a" stroke-width="0.85"/>
<line x1="222.35" y1="570.71" x2="231.95" y2="570.71" stroke="#1a1a1a" stroke-width="0.85"/>
<line x1="222.35" y1="577.98" x2="231.95" y2="577.98" stroke="#1a1a1a" stroke-width="0.85"/>
<circle cx="223.65" cy="570.71" r="1.8" fill="#111"/>
<circle cx="230.35" cy="573.30" r="1.8" fill="#111"/>
<circle cx="227.15" cy="577.98" r="1.8" fill="#111"/>
<rect x="248.50" y="600.67" width="18.70" height="67.13" fill="#9cba9d" stroke="#1a1a1a" stroke-width="1.1"/>
<line x1="257.85" y1="598.11" x2="257.85" y2="602.20" stroke="#1a1a1a" stroke-width="0.85"/>
<line x1="253.05" y1="598.11" x2="262.65" y2="598.11" stroke="#1a1a1a" stroke-width="0.85"/>
<line x1="253.05" y1="602.20" x2="262.65" y2="602.20" stroke="#1a1a1a" stroke-width="0.85"/>
<circle cx="254.25" cy="598.11" r="1.8" fill="#111"/>
<circle cx="260.65" cy="598.11" r="1.8" fill="#111"/>
<circle cx="257.35" cy="602.20" r="1.8" fill="#111"/>
<line x1="206.80" y1="560.70" x2="206.80" y2="668.40" stroke="#111" stroke-width="1.35"/>
<line x1="206.20" y1="667.80" x2="278.20" y2="667.80" stroke="#111" stroke-width="1.35"/>
<line x1="202.60" y1="667.80" x2="206.80" y2="667.80" stroke="#111" stroke-width="1.3"/>
<text transform="translate(201.10 670.82) scale(0.94 1)" font-size="8.4" text-anchor="end" font-weight="bold" stroke="#111" stroke-width="0.2" fill="#111" >0</text>
<line x1="202.60" y1="632.30" x2="206.80" y2="632.30" stroke="#111" stroke-width="1.3"/>
<text transform="translate(201.10 635.32) scale(0.94 1)" font-size="8.4" text-anchor="end" font-weight="bold" stroke="#111" stroke-width="0.2" fill="#111" >100</text>
<line x1="202.60" y1="596.80" x2="206.80" y2="596.80" stroke="#111" stroke-width="1.3"/>
<text transform="translate(201.10 599.82) scale(0.94 1)" font-size="8.4" text-anchor="end" font-weight="bold" stroke="#111" stroke-width="0.2" fill="#111" >200</text>
<line x1="202.60" y1="561.30" x2="206.80" y2="561.30" stroke="#111" stroke-width="1.3"/>
<text transform="translate(201.10 564.32) scale(0.94 1)" font-size="8.4" text-anchor="end" font-weight="bold" stroke="#111" stroke-width="0.2" fill="#111" >300</text>
<line x1="242.50" y1="667.80" x2="242.50" y2="667.80" stroke="#1a1a1a" stroke-width="1.0"/>
<text transform="translate(242.50 680.80)" font-size="8.6" text-anchor="middle" stroke="#111" stroke-width="0.12" fill="#111" >AGS</text>
<text transform="translate(182.60 614.40) rotate(-90)" font-size="8.8" text-anchor="middle" stroke="#111" stroke-width="0.12" fill="#111" >ECAR (mpH/min)</text>
<polyline points="226.50,565.70 226.50,560.70 256.70,560.70 256.70,565.70" fill="none" stroke="#111" stroke-width="1.15"/>
<text transform="translate(241.60 561.60)" font-size="8.2" text-anchor="middle" stroke="#111" stroke-width="0.2" fill="#111" >***</text>
<rect x="276.20" y="565.20" width="11.00" height="5.00" fill="#5f83c0" stroke="#1a1a1a" stroke-width="1.0"/>
<text transform="translate(294.40 570.83)" font-size="8.7" text-anchor="start" stroke="#111" stroke-width="0.12" fill="#111" >sh-NC</text>
<rect x="276.20" y="579.60" width="11.00" height="5.00" fill="#9cba9d" stroke="#1a1a1a" stroke-width="1.0"/>
<text transform="translate(294.40 585.23)" font-size="8.7" text-anchor="start" stroke="#111" stroke-width="0.12" fill="#111" >sh-HKDC1</text>
<text transform="translate(242.30 548.20)" font-size="8.8" text-anchor="middle" stroke="#111" stroke-width="0.12" fill="#111" >Glycolytic Capacity</text>
<rect x="391.20" y="568.06" width="17.90" height="99.74" fill="#5f83c0" stroke="#1a1a1a" stroke-width="1.1"/>
<line x1="400.15" y1="563.96" x2="400.15" y2="571.42" stroke="#1a1a1a" stroke-width="0.85"/>
<line x1="395.35" y1="563.96" x2="404.95" y2="563.96" stroke="#1a1a1a" stroke-width="0.85"/>
<line x1="395.35" y1="571.42" x2="404.95" y2="571.42" stroke="#1a1a1a" stroke-width="0.85"/>
<circle cx="396.45" cy="564.76" r="1.8" fill="#111"/>
<circle cx="403.05" cy="565.96" r="1.8" fill="#111"/>
<circle cx="399.95" cy="571.42" r="1.8" fill="#111"/>
<rect x="420.60" y="586.43" width="18.70" height="81.37" fill="#9cba9d" stroke="#1a1a1a" stroke-width="1.1"/>
<line x1="429.95" y1="579.67" x2="429.95" y2="591.25" stroke="#1a1a1a" stroke-width="0.85"/>
<line x1="425.15" y1="579.67" x2="434.75" y2="579.67" stroke="#1a1a1a" stroke-width="0.85"/>
<line x1="425.15" y1="591.25" x2="434.75" y2="591.25" stroke="#1a1a1a" stroke-width="0.85"/>
<circle cx="430.45" cy="579.67" r="1.8" fill="#111"/>
<circle cx="430.45" cy="585.53" r="1.8" fill="#111"/>
<circle cx="430.45" cy="591.25" r="1.8" fill="#111"/>
<line x1="380.70" y1="560.70" x2="380.70" y2="668.40" stroke="#111" stroke-width="1.35"/>
<line x1="380.10" y1="667.80" x2="449.80" y2="667.80" stroke="#111" stroke-width="1.35"/>
<line x1="376.50" y1="667.80" x2="380.70" y2="667.80" stroke="#111" stroke-width="1.3"/>
<text transform="translate(375.00 670.82) scale(0.94 1)" font-size="8.4" text-anchor="end" font-weight="bold" stroke="#111" stroke-width="0.2" fill="#111" >0</text>
<line x1="376.50" y1="641.17" x2="380.70" y2="641.17" stroke="#111" stroke-width="1.3"/>
<text transform="translate(375.00 644.20) scale(0.94 1)" font-size="8.4" text-anchor="end" font-weight="bold" stroke="#111" stroke-width="0.2" fill="#111" >20</text>
<line x1="376.50" y1="614.55" x2="380.70" y2="614.55" stroke="#111" stroke-width="1.3"/>
<text transform="translate(375.00 617.57) scale(0.94 1)" font-size="8.4" text-anchor="end" font-weight="bold" stroke="#111" stroke-width="0.2" fill="#111" >40</text>
<line x1="376.50" y1="587.92" x2="380.70" y2="587.92" stroke="#111" stroke-width="1.3"/>
<text transform="translate(375.00 590.95) scale(0.94 1)" font-size="8.4" text-anchor="end" font-weight="bold" stroke="#111" stroke-width="0.2" fill="#111" >60</text>
<line x1="376.50" y1="561.30" x2="380.70" y2="561.30" stroke="#111" stroke-width="1.3"/>
<text transform="translate(375.00 564.32) scale(0.94 1)" font-size="8.4" text-anchor="end" font-weight="bold" stroke="#111" stroke-width="0.2" fill="#111" >80</text>
<line x1="414.85" y1="667.80" x2="414.85" y2="667.80" stroke="#1a1a1a" stroke-width="1.0"/>
<text transform="translate(414.85 680.80)" font-size="8.6" text-anchor="middle" stroke="#111" stroke-width="0.12" fill="#111" >BGC-823</text>
<text transform="translate(359.80 614.40) rotate(-90)" font-size="8.8" text-anchor="middle" stroke="#111" stroke-width="0.12" fill="#111" >ECAR (mpH/min)</text>
<polyline points="399.90,560.00 399.90,555.00 430.10,555.00 430.10,560.00" fill="none" stroke="#111" stroke-width="1.15"/>
<text transform="translate(415.00 555.90)" font-size="8.2" text-anchor="middle" stroke="#111" stroke-width="0.2" fill="#111" >**</text>
<rect x="450.20" y="565.20" width="11.00" height="5.00" fill="#5f83c0" stroke="#1a1a1a" stroke-width="1.0"/>
<text transform="translate(467.00 570.83)" font-size="8.7" text-anchor="start" stroke="#111" stroke-width="0.12" fill="#111" >sh-NC</text>
<rect x="450.20" y="579.60" width="11.00" height="5.00" fill="#9cba9d" stroke="#1a1a1a" stroke-width="1.0"/>
<text transform="translate(467.00 585.23)" font-size="8.7" text-anchor="start" stroke="#111" stroke-width="0.12" fill="#111" >sh-HKDC1</text>
<text transform="translate(415.30 548.70)" font-size="8.8" text-anchor="middle" stroke="#111" stroke-width="0.12" fill="#111" >Glycolytic Reserve</text>
<rect x="563.80" y="586.03" width="18.70" height="81.77" fill="#5f83c0" stroke="#1a1a1a" stroke-width="1.1"/>
<line x1="573.15" y1="581.53" x2="573.15" y2="590.05" stroke="#1a1a1a" stroke-width="0.85"/>
<line x1="568.35" y1="581.53" x2="577.95" y2="581.53" stroke="#1a1a1a" stroke-width="0.85"/>
<line x1="568.35" y1="590.05" x2="577.95" y2="590.05" stroke="#1a1a1a" stroke-width="0.85"/>
<circle cx="569.45" cy="582.87" r="1.8" fill="#111"/>
<circle cx="576.05" cy="583.80" r="1.8" fill="#111"/>
<circle cx="572.95" cy="590.05" r="1.8" fill="#111"/>
<rect x="594.00" y="601.74" width="18.70" height="66.06" fill="#9cba9d" stroke="#1a1a1a" stroke-width="1.1"/>
<line x1="603.35" y1="600.57" x2="603.35" y2="602.30" stroke="#1a1a1a" stroke-width="0.85"/>
<line x1="598.55" y1="600.57" x2="608.15" y2="600.57" stroke="#1a1a1a" stroke-width="0.85"/>
<line x1="598.55" y1="602.30" x2="608.15" y2="602.30" stroke="#1a1a1a" stroke-width="0.85"/>
<circle cx="596.55" cy="602.30" r="1.8" fill="#111"/>
<circle cx="603.15" cy="600.57" r="1.8" fill="#111"/>
<circle cx="609.75" cy="601.10" r="1.8" fill="#111"/>
<line x1="553.10" y1="560.70" x2="553.10" y2="668.40" stroke="#111" stroke-width="1.35"/>
<line x1="552.50" y1="667.80" x2="623.40" y2="667.80" stroke="#111" stroke-width="1.35"/>
<line x1="548.90" y1="667.80" x2="553.10" y2="667.80" stroke="#111" stroke-width="1.3"/>
<text transform="translate(547.40 670.82) scale(0.94 1)" font-size="8.4" text-anchor="end" font-weight="bold" stroke="#111" stroke-width="0.2" fill="#111" >0</text>
<line x1="548.90" y1="641.17" x2="553.10" y2="641.17" stroke="#111" stroke-width="1.3"/>
<text transform="translate(547.40 644.20) scale(0.94 1)" font-size="8.4" text-anchor="end" font-weight="bold" stroke="#111" stroke-width="0.2" fill="#111" >20</text>
<line x1="548.90" y1="614.55" x2="553.10" y2="614.55" stroke="#111" stroke-width="1.3"/>
<text transform="translate(547.40 617.57) scale(0.94 1)" font-size="8.4" text-anchor="end" font-weight="bold" stroke="#111" stroke-width="0.2" fill="#111" >40</text>
<line x1="548.90" y1="587.92" x2="553.10" y2="587.92" stroke="#111" stroke-width="1.3"/>
<text transform="translate(547.40 590.95) scale(0.94 1)" font-size="8.4" text-anchor="end" font-weight="bold" stroke="#111" stroke-width="0.2" fill="#111" >60</text>
<line x1="548.90" y1="561.30" x2="553.10" y2="561.30" stroke="#111" stroke-width="1.3"/>
<text transform="translate(547.40 564.32) scale(0.94 1)" font-size="8.4" text-anchor="end" font-weight="bold" stroke="#111" stroke-width="0.2" fill="#111" >80</text>
<line x1="588.25" y1="667.80" x2="588.25" y2="667.80" stroke="#1a1a1a" stroke-width="1.0"/>
<text transform="translate(588.25 680.80)" font-size="8.6" text-anchor="middle" stroke="#111" stroke-width="0.12" fill="#111" >AGS</text>
<text transform="translate(533.00 614.40) rotate(-90)" font-size="8.8" text-anchor="middle" stroke="#111" stroke-width="0.12" fill="#111" >ECAR (mpH/min)</text>
<polyline points="572.00,574.10 572.00,569.10 602.70,569.10 602.70,574.10" fill="none" stroke="#111" stroke-width="1.15"/>
<text transform="translate(587.35 570.00)" font-size="8.2" text-anchor="middle" stroke="#111" stroke-width="0.2" fill="#111" >**</text>
<rect x="622.50" y="565.20" width="11.00" height="5.00" fill="#5f83c0" stroke="#1a1a1a" stroke-width="1.0"/>
<text transform="translate(639.90 570.83)" font-size="8.7" text-anchor="start" stroke="#111" stroke-width="0.12" fill="#111" >sh-NC</text>
<rect x="622.50" y="579.60" width="11.00" height="5.00" fill="#9cba9d" stroke="#1a1a1a" stroke-width="1.0"/>
<text transform="translate(639.90 585.23)" font-size="8.7" text-anchor="start" stroke="#111" stroke-width="0.12" fill="#111" >sh-HKDC1</text>
<text transform="translate(588.20 548.20)" font-size="8.8" text-anchor="middle" stroke="#111" stroke-width="0.12" fill="#111" >Glycolytic Reserve</text>
<polyline points="235.82,289.68 251.85,290.61 267.30,289.36 283.21,274.10 298.65,275.66 314.21,278.15 329.77,248.87 345.33,245.75 360.78,248.87 376.34,288.43 391.90,289.99 407.11,291.86" fill="none" stroke="#9dbb9e" stroke-width="1.3"/>
<line x1="235.82" y1="286.56" x2="235.82" y2="292.79" stroke="#9dbb9e" stroke-width="0.95"/>
<line x1="233.22" y1="286.56" x2="238.42" y2="286.56" stroke="#9dbb9e" stroke-width="0.95"/>
<line x1="233.22" y1="292.79" x2="238.42" y2="292.79" stroke="#9dbb9e" stroke-width="0.95"/>
<rect x="233.22" y="287.08" width="5.2" height="5.2" fill="#9dbb9e"/>
<line x1="251.85" y1="286.25" x2="251.85" y2="294.97" stroke="#9dbb9e" stroke-width="0.95"/>
<line x1="249.25" y1="286.25" x2="254.45" y2="286.25" stroke="#9dbb9e" stroke-width="0.95"/>
<line x1="249.25" y1="294.97" x2="254.45" y2="294.97" stroke="#9dbb9e" stroke-width="0.95"/>
<rect x="249.25" y="288.01" width="5.2" height="5.2" fill="#9dbb9e"/>
<line x1="267.30" y1="286.87" x2="267.30" y2="291.86" stroke="#9dbb9e" stroke-width="0.95"/>
<line x1="264.70" y1="286.87" x2="269.90" y2="286.87" stroke="#9dbb9e" stroke-width="0.95"/>
<line x1="264.70" y1="291.86" x2="269.90" y2="291.86" stroke="#9dbb9e" stroke-width="0.95"/>
<rect x="264.70" y="286.76" width="5.2" height="5.2" fill="#9dbb9e"/>
<line x1="283.21" y1="269.74" x2="283.21" y2="278.46" stroke="#9dbb9e" stroke-width="0.95"/>
<line x1="280.61" y1="269.74" x2="285.81" y2="269.74" stroke="#9dbb9e" stroke-width="0.95"/>
<line x1="280.61" y1="278.46" x2="285.81" y2="278.46" stroke="#9dbb9e" stroke-width="0.95"/>
<rect x="280.61" y="271.50" width="5.2" height="5.2" fill="#9dbb9e"/>
<line x1="298.65" y1="270.05" x2="298.65" y2="281.26" stroke="#9dbb9e" stroke-width="0.95"/>
<line x1="296.05" y1="270.05" x2="301.25" y2="270.05" stroke="#9dbb9e" stroke-width="0.95"/>
<line x1="296.05" y1="281.26" x2="301.25" y2="281.26" stroke="#9dbb9e" stroke-width="0.95"/>
<rect x="296.05" y="273.06" width="5.2" height="5.2" fill="#9dbb9e"/>
<line x1="314.21" y1="273.48" x2="314.21" y2="282.82" stroke="#9dbb9e" stroke-width="0.95"/>
<line x1="311.61" y1="273.48" x2="316.81" y2="273.48" stroke="#9dbb9e" stroke-width="0.95"/>
<line x1="311.61" y1="282.82" x2="316.81" y2="282.82" stroke="#9dbb9e" stroke-width="0.95"/>
<rect x="311.61" y="275.55" width="5.2" height="5.2" fill="#9dbb9e"/>
<line x1="329.77" y1="244.20" x2="329.77" y2="253.54" stroke="#9dbb9e" stroke-width="0.95"/>
<line x1="327.17" y1="244.20" x2="332.37" y2="244.20" stroke="#9dbb9e" stroke-width="0.95"/>
<line x1="327.17" y1="253.54" x2="332.37" y2="253.54" stroke="#9dbb9e" stroke-width="0.95"/>
<rect x="327.17" y="246.27" width="5.2" height="5.2" fill="#9dbb9e"/>
<line x1="345.33" y1="243.88" x2="345.33" y2="247.62" stroke="#9dbb9e" stroke-width="0.95"/>
<line x1="342.73" y1="243.88" x2="347.94" y2="243.88" stroke="#9dbb9e" stroke-width="0.95"/>
<line x1="342.73" y1="247.62" x2="347.94" y2="247.62" stroke="#9dbb9e" stroke-width="0.95"/>
<rect x="342.73" y="243.15" width="5.2" height="5.2" fill="#9dbb9e"/>
<line x1="360.78" y1="245.13" x2="360.78" y2="252.61" stroke="#9dbb9e" stroke-width="0.95"/>
<line x1="358.18" y1="245.13" x2="363.38" y2="245.13" stroke="#9dbb9e" stroke-width="0.95"/>
<line x1="358.18" y1="252.61" x2="363.38" y2="252.61" stroke="#9dbb9e" stroke-width="0.95"/>
<rect x="358.18" y="246.27" width="5.2" height="5.2" fill="#9dbb9e"/>
<line x1="376.34" y1="285.31" x2="376.34" y2="291.54" stroke="#9dbb9e" stroke-width="0.95"/>
<line x1="373.74" y1="285.31" x2="378.94" y2="285.31" stroke="#9dbb9e" stroke-width="0.95"/>
<line x1="373.74" y1="291.54" x2="378.94" y2="291.54" stroke="#9dbb9e" stroke-width="0.95"/>
<rect x="373.74" y="285.83" width="5.2" height="5.2" fill="#9dbb9e"/>
<line x1="391.90" y1="287.50" x2="391.90" y2="292.48" stroke="#9dbb9e" stroke-width="0.95"/>
<line x1="389.30" y1="287.50" x2="394.50" y2="287.50" stroke="#9dbb9e" stroke-width="0.95"/>
<line x1="389.30" y1="292.48" x2="394.50" y2="292.48" stroke="#9dbb9e" stroke-width="0.95"/>
<rect x="389.30" y="287.39" width="5.2" height="5.2" fill="#9dbb9e"/>
<line x1="407.11" y1="287.50" x2="407.11" y2="296.22" stroke="#9dbb9e" stroke-width="0.95"/>
<line x1="404.51" y1="287.50" x2="409.71" y2="287.50" stroke="#9dbb9e" stroke-width="0.95"/>
<line x1="404.51" y1="296.22" x2="409.71" y2="296.22" stroke="#9dbb9e" stroke-width="0.95"/>
<rect x="404.51" y="289.26" width="5.2" height="5.2" fill="#9dbb9e"/>
<polyline points="235.82,285.00 251.85,283.45 267.30,284.38 283.21,262.57 298.65,263.20 314.21,262.26 329.77,226.75 345.33,224.88 360.78,223.95 376.34,285.63 391.90,285.63 407.11,286.25" fill="none" stroke="#6a8cc8" stroke-width="1.3"/>
<line x1="235.82" y1="280.33" x2="235.82" y2="289.68" stroke="#6a8cc8" stroke-width="0.95"/>
<line x1="233.22" y1="280.33" x2="238.42" y2="280.33" stroke="#6a8cc8" stroke-width="0.95"/>
<line x1="233.22" y1="289.68" x2="238.42" y2="289.68" stroke="#6a8cc8" stroke-width="0.95"/>
<circle cx="235.82" cy="285.00" r="2.75" fill="#6a8cc8"/>
<line x1="251.85" y1="279.71" x2="251.85" y2="287.18" stroke="#6a8cc8" stroke-width="0.95"/>
<line x1="249.25" y1="279.71" x2="254.45" y2="279.71" stroke="#6a8cc8" stroke-width="0.95"/>
<line x1="249.25" y1="287.18" x2="254.45" y2="287.18" stroke="#6a8cc8" stroke-width="0.95"/>
<circle cx="251.85" cy="283.45" r="2.75" fill="#6a8cc8"/>
<line x1="267.30" y1="281.89" x2="267.30" y2="286.87" stroke="#6a8cc8" stroke-width="0.95"/>
<line x1="264.70" y1="281.89" x2="269.90" y2="281.89" stroke="#6a8cc8" stroke-width="0.95"/>
<line x1="264.70" y1="286.87" x2="269.90" y2="286.87" stroke="#6a8cc8" stroke-width="0.95"/>
<circle cx="267.30" cy="284.38" r="2.75" fill="#6a8cc8"/>
<line x1="283.21" y1="255.72" x2="283.21" y2="269.43" stroke="#6a8cc8" stroke-width="0.95"/>
<line x1="280.61" y1="255.72" x2="285.81" y2="255.72" stroke="#6a8cc8" stroke-width="0.95"/>
<line x1="280.61" y1="269.43" x2="285.81" y2="269.43" stroke="#6a8cc8" stroke-width="0.95"/>
<circle cx="283.21" cy="262.57" r="2.75" fill="#6a8cc8"/>
<line x1="298.65" y1="258.53" x2="298.65" y2="267.87" stroke="#6a8cc8" stroke-width="0.95"/>
<line x1="296.05" y1="258.53" x2="301.25" y2="258.53" stroke="#6a8cc8" stroke-width="0.95"/>
<line x1="296.05" y1="267.87" x2="301.25" y2="267.87" stroke="#6a8cc8" stroke-width="0.95"/>
<circle cx="298.65" cy="263.20" r="2.75" fill="#6a8cc8"/>
<line x1="314.21" y1="259.15" x2="314.21" y2="265.38" stroke="#6a8cc8" stroke-width="0.95"/>
<line x1="311.61" y1="259.15" x2="316.81" y2="259.15" stroke="#6a8cc8" stroke-width="0.95"/>
<line x1="311.61" y1="265.38" x2="316.81" y2="265.38" stroke="#6a8cc8" stroke-width="0.95"/>
<circle cx="314.21" cy="262.26" r="2.75" fill="#6a8cc8"/>
<line x1="329.77" y1="218.96" x2="329.77" y2="234.54" stroke="#6a8cc8" stroke-width="0.95"/>
<line x1="327.17" y1="218.96" x2="332.37" y2="218.96" stroke="#6a8cc8" stroke-width="0.95"/>
<line x1="327.17" y1="234.54" x2="332.37" y2="234.54" stroke="#6a8cc8" stroke-width="0.95"/>
<circle cx="329.77" cy="226.75" r="2.75" fill="#6a8cc8"/>
<line x1="345.33" y1="215.54" x2="345.33" y2="234.23" stroke="#6a8cc8" stroke-width="0.95"/>
<line x1="342.73" y1="215.54" x2="347.94" y2="215.54" stroke="#6a8cc8" stroke-width="0.95"/>
<line x1="342.73" y1="234.23" x2="347.94" y2="234.23" stroke="#6a8cc8" stroke-width="0.95"/>
<circle cx="345.33" cy="224.88" r="2.75" fill="#6a8cc8"/>
<line x1="360.78" y1="220.21" x2="360.78" y2="227.69" stroke="#6a8cc8" stroke-width="0.95"/>
<line x1="358.18" y1="220.21" x2="363.38" y2="220.21" stroke="#6a8cc8" stroke-width="0.95"/>
<line x1="358.18" y1="227.69" x2="363.38" y2="227.69" stroke="#6a8cc8" stroke-width="0.95"/>
<circle cx="360.78" cy="223.95" r="2.75" fill="#6a8cc8"/>
<line x1="376.34" y1="280.95" x2="376.34" y2="290.30" stroke="#6a8cc8" stroke-width="0.95"/>
<line x1="373.74" y1="280.95" x2="378.94" y2="280.95" stroke="#6a8cc8" stroke-width="0.95"/>
<line x1="373.74" y1="290.30" x2="378.94" y2="290.30" stroke="#6a8cc8" stroke-width="0.95"/>
<circle cx="376.34" cy="285.63" r="2.75" fill="#6a8cc8"/>
<line x1="391.90" y1="280.95" x2="391.90" y2="290.30" stroke="#6a8cc8" stroke-width="0.95"/>
<line x1="389.30" y1="280.95" x2="394.50" y2="280.95" stroke="#6a8cc8" stroke-width="0.95"/>
<line x1="389.30" y1="290.30" x2="394.50" y2="290.30" stroke="#6a8cc8" stroke-width="0.95"/>
<circle cx="391.90" cy="285.63" r="2.75" fill="#6a8cc8"/>
<line x1="407.11" y1="281.58" x2="407.11" y2="290.92" stroke="#6a8cc8" stroke-width="0.95"/>
<line x1="404.51" y1="281.58" x2="409.71" y2="281.58" stroke="#6a8cc8" stroke-width="0.95"/>
<line x1="404.51" y1="290.92" x2="409.71" y2="290.92" stroke="#6a8cc8" stroke-width="0.95"/>
<circle cx="407.11" cy="286.25" r="2.75" fill="#6a8cc8"/>
<line x1="233.60" y1="184.10" x2="233.60" y2="309.90" stroke="#1a1a1a" stroke-width="1.3"/>
<line x1="233.00" y1="309.30" x2="420.80" y2="309.30" stroke="#1a1a1a" stroke-width="1.3"/>
<line x1="228.20" y1="309.30" x2="233.60" y2="309.30" stroke="#1a1a1a" stroke-width="1.3"/>
<text transform="translate(226.40 312.60)" font-size="9.2" text-anchor="end" font-weight="bold" stroke="#111" stroke-width="0.22" fill="#111" >0</text>
<line x1="228.20" y1="278.15" x2="233.60" y2="278.15" stroke="#1a1a1a" stroke-width="1.3"/>
<text transform="translate(226.40 281.45)" font-size="9.2" text-anchor="end" font-weight="bold" stroke="#111" stroke-width="0.22" fill="#111" >100</text>
<line x1="228.20" y1="247.00" x2="233.60" y2="247.00" stroke="#1a1a1a" stroke-width="1.3"/>
<text transform="translate(226.40 250.30)" font-size="9.2" text-anchor="end" font-weight="bold" stroke="#111" stroke-width="0.22" fill="#111" >200</text>
<line x1="228.20" y1="215.85" x2="233.60" y2="215.85" stroke="#1a1a1a" stroke-width="1.3"/>
<text transform="translate(226.40 219.15)" font-size="9.2" text-anchor="end" font-weight="bold" stroke="#111" stroke-width="0.22" fill="#111" >300</text>
<line x1="228.20" y1="184.70" x2="233.60" y2="184.70" stroke="#1a1a1a" stroke-width="1.3"/>
<text transform="translate(226.40 188.00)" font-size="9.2" text-anchor="end" font-weight="bold" stroke="#111" stroke-width="0.22" fill="#111" >400</text>
<line x1="233.60" y1="309.30" x2="233.60" y2="313.80" stroke="#1a1a1a" stroke-width="1.2"/>
<text transform="translate(233.60 325.50)" font-size="9.2" text-anchor="middle" font-weight="bold" stroke="#111" stroke-width="0.22" fill="#111" >0</text>
<line x1="280.40" y1="309.30" x2="280.40" y2="313.80" stroke="#1a1a1a" stroke-width="1.2"/>
<text transform="translate(280.40 325.50)" font-size="9.2" text-anchor="middle" font-weight="bold" stroke="#111" stroke-width="0.22" fill="#111" >20</text>
<line x1="327.20" y1="309.30" x2="327.20" y2="313.80" stroke="#1a1a1a" stroke-width="1.2"/>
<text transform="translate(327.20 325.50)" font-size="9.2" text-anchor="middle" font-weight="bold" stroke="#111" stroke-width="0.22" fill="#111" >40</text>
<line x1="374.00" y1="309.30" x2="374.00" y2="313.80" stroke="#1a1a1a" stroke-width="1.2"/>
<text transform="translate(374.00 325.50)" font-size="9.2" text-anchor="middle" font-weight="bold" stroke="#111" stroke-width="0.22" fill="#111" >60</text>
<line x1="420.80" y1="309.30" x2="420.80" y2="313.80" stroke="#1a1a1a" stroke-width="1.2"/>
<text transform="translate(420.80 325.50)" font-size="9.2" text-anchor="middle" font-weight="bold" stroke="#111" stroke-width="0.22" fill="#111" >80</text>
<text transform="translate(326.90 340.00)" font-size="10.4" text-anchor="middle" stroke="#111" stroke-width="0.12" fill="#111" >Time (min)</text>
<text transform="translate(205.20 246.00) rotate(-90)" font-size="10.2" text-anchor="middle" stroke="#111" stroke-width="0.12" fill="#111" >ECAR (mpH/min)</text>
<line x1="242.20" y1="178.10" x2="255.50" y2="178.10" stroke="#6a8cc8" stroke-width="1.3"/>
<circle cx="248.85" cy="178.10" r="2.4" fill="#6a8cc8"/>
<text transform="translate(263.00 181.70)" font-size="10.0" text-anchor="start" stroke="#111" stroke-width="0.12" fill="#111" >sh-NC</text>
<line x1="242.20" y1="195.00" x2="255.50" y2="195.00" stroke="#9dbb9e" stroke-width="1.3"/>
<rect x="246.35" y="192.50" width="5" height="5" fill="#9dbb9e"/>
<text transform="translate(263.00 198.60)" font-size="10.0" text-anchor="start" stroke="#111" stroke-width="0.12" fill="#111" >sh-HKDC1</text>
<line x1="267.40" y1="265.60" x2="267.40" y2="273.50" stroke="#1a1a1a" stroke-width="1.45"/>
<polygon points="264.70,271.50 270.10,271.50 267.40,277.50" fill="#111"/>
<text transform="translate(264.00 262.90)" font-size="8.5" text-anchor="middle" stroke="#111" stroke-width="0.12" fill="#111" >Glucose</text>
<line x1="314.00" y1="239.80" x2="314.00" y2="249.00" stroke="#1a1a1a" stroke-width="1.45"/>
<polygon points="311.30,247.00 316.70,247.00 314.00,253.00" fill="#111"/>
<text transform="translate(303.20 236.00)" font-size="8.5" text-anchor="middle" stroke="#111" stroke-width="0.12" fill="#111" >Oligomycin</text>
<line x1="361.00" y1="203.50" x2="361.00" y2="212.80" stroke="#1a1a1a" stroke-width="1.45"/>
<polygon points="358.30,210.80 363.70,210.80 361.00,216.80" fill="#111"/>
<text transform="translate(361.00 200.10)" font-size="8.5" text-anchor="middle" stroke="#111" stroke-width="0.12" fill="#111" >2-DG</text>
<polyline points="480.62,287.37 496.61,289.03 512.02,288.62 527.90,266.59 543.31,268.66 558.84,265.75 574.37,232.92 589.90,227.93 605.31,227.93 620.84,288.62 636.36,289.45 651.54,288.62" fill="none" stroke="#9dbb9e" stroke-width="1.3"/>
<line x1="480.62" y1="284.04" x2="480.62" y2="290.69" stroke="#9dbb9e" stroke-width="0.95"/>
<line x1="478.02" y1="284.04" x2="483.22" y2="284.04" stroke="#9dbb9e" stroke-width="0.95"/>
<line x1="478.02" y1="290.69" x2="483.22" y2="290.69" stroke="#9dbb9e" stroke-width="0.95"/>
<rect x="478.02" y="284.77" width="5.2" height="5.2" fill="#9dbb9e"/>
<line x1="496.61" y1="286.95" x2="496.61" y2="291.11" stroke="#9dbb9e" stroke-width="0.95"/>
<line x1="494.01" y1="286.95" x2="499.21" y2="286.95" stroke="#9dbb9e" stroke-width="0.95"/>
<line x1="494.01" y1="291.11" x2="499.21" y2="291.11" stroke="#9dbb9e" stroke-width="0.95"/>
<rect x="494.01" y="286.43" width="5.2" height="5.2" fill="#9dbb9e"/>
<line x1="512.02" y1="284.46" x2="512.02" y2="292.77" stroke="#9dbb9e" stroke-width="0.95"/>
<line x1="509.42" y1="284.46" x2="514.62" y2="284.46" stroke="#9dbb9e" stroke-width="0.95"/>
<line x1="509.42" y1="292.77" x2="514.62" y2="292.77" stroke="#9dbb9e" stroke-width="0.95"/>
<rect x="509.42" y="286.02" width="5.2" height="5.2" fill="#9dbb9e"/>
<line x1="527.90" y1="263.26" x2="527.90" y2="269.91" stroke="#9dbb9e" stroke-width="0.95"/>
<line x1="525.30" y1="263.26" x2="530.50" y2="263.26" stroke="#9dbb9e" stroke-width="0.95"/>
<line x1="525.30" y1="269.91" x2="530.50" y2="269.91" stroke="#9dbb9e" stroke-width="0.95"/>
<rect x="525.30" y="263.99" width="5.2" height="5.2" fill="#9dbb9e"/>
<line x1="543.31" y1="264.51" x2="543.31" y2="272.82" stroke="#9dbb9e" stroke-width="0.95"/>
<line x1="540.71" y1="264.51" x2="545.91" y2="264.51" stroke="#9dbb9e" stroke-width="0.95"/>
<line x1="540.71" y1="272.82" x2="545.91" y2="272.82" stroke="#9dbb9e" stroke-width="0.95"/>
<rect x="540.71" y="266.06" width="5.2" height="5.2" fill="#9dbb9e"/>
<line x1="558.84" y1="259.52" x2="558.84" y2="271.99" stroke="#9dbb9e" stroke-width="0.95"/>
<line x1="556.24" y1="259.52" x2="561.44" y2="259.52" stroke="#9dbb9e" stroke-width="0.95"/>
<line x1="556.24" y1="271.99" x2="561.44" y2="271.99" stroke="#9dbb9e" stroke-width="0.95"/>
<rect x="556.24" y="263.15" width="5.2" height="5.2" fill="#9dbb9e"/>
<line x1="574.37" y1="228.76" x2="574.37" y2="237.07" stroke="#9dbb9e" stroke-width="0.95"/>
<line x1="571.77" y1="228.76" x2="576.97" y2="228.76" stroke="#9dbb9e" stroke-width="0.95"/>
<line x1="571.77" y1="237.07" x2="576.97" y2="237.07" stroke="#9dbb9e" stroke-width="0.95"/>
<rect x="571.77" y="230.32" width="5.2" height="5.2" fill="#9dbb9e"/>
<line x1="589.90" y1="222.94" x2="589.90" y2="232.92" stroke="#9dbb9e" stroke-width="0.95"/>
<line x1="587.30" y1="222.94" x2="592.50" y2="222.94" stroke="#9dbb9e" stroke-width="0.95"/>
<line x1="587.30" y1="232.92" x2="592.50" y2="232.92" stroke="#9dbb9e" stroke-width="0.95"/>
<rect x="587.30" y="225.33" width="5.2" height="5.2" fill="#9dbb9e"/>
<line x1="605.31" y1="222.11" x2="605.31" y2="233.75" stroke="#9dbb9e" stroke-width="0.95"/>
<line x1="602.71" y1="222.11" x2="607.91" y2="222.11" stroke="#9dbb9e" stroke-width="0.95"/>
<line x1="602.71" y1="233.75" x2="607.91" y2="233.75" stroke="#9dbb9e" stroke-width="0.95"/>
<rect x="602.71" y="225.33" width="5.2" height="5.2" fill="#9dbb9e"/>
<line x1="620.84" y1="286.95" x2="620.84" y2="290.28" stroke="#9dbb9e" stroke-width="0.95"/>
<line x1="618.24" y1="286.95" x2="623.44" y2="286.95" stroke="#9dbb9e" stroke-width="0.95"/>
<line x1="618.24" y1="290.28" x2="623.44" y2="290.28" stroke="#9dbb9e" stroke-width="0.95"/>
<rect x="618.24" y="286.02" width="5.2" height="5.2" fill="#9dbb9e"/>
<line x1="636.36" y1="286.12" x2="636.36" y2="292.77" stroke="#9dbb9e" stroke-width="0.95"/>
<line x1="633.76" y1="286.12" x2="638.96" y2="286.12" stroke="#9dbb9e" stroke-width="0.95"/>
<line x1="633.76" y1="292.77" x2="638.96" y2="292.77" stroke="#9dbb9e" stroke-width="0.95"/>
<rect x="633.76" y="286.85" width="5.2" height="5.2" fill="#9dbb9e"/>
<line x1="651.54" y1="286.95" x2="651.54" y2="290.28" stroke="#9dbb9e" stroke-width="0.95"/>
<line x1="648.94" y1="286.95" x2="654.14" y2="286.95" stroke="#9dbb9e" stroke-width="0.95"/>
<line x1="648.94" y1="290.28" x2="654.14" y2="290.28" stroke="#9dbb9e" stroke-width="0.95"/>
<rect x="648.94" y="286.02" width="5.2" height="5.2" fill="#9dbb9e"/>
<polyline points="480.62,284.46 496.61,285.71 512.02,284.04 527.90,252.04 543.31,250.79 558.84,251.21 574.37,203.82 589.90,198.42 605.31,195.09 620.84,282.80 636.36,284.46 651.54,282.80" fill="none" stroke="#6a8cc8" stroke-width="1.3"/>
<line x1="480.62" y1="279.47" x2="480.62" y2="289.45" stroke="#6a8cc8" stroke-width="0.95"/>
<line x1="478.02" y1="279.47" x2="483.22" y2="279.47" stroke="#6a8cc8" stroke-width="0.95"/>
<line x1="478.02" y1="289.45" x2="483.22" y2="289.45" stroke="#6a8cc8" stroke-width="0.95"/>
<circle cx="480.62" cy="284.46" r="2.75" fill="#6a8cc8"/>
<line x1="496.61" y1="283.63" x2="496.61" y2="287.79" stroke="#6a8cc8" stroke-width="0.95"/>
<line x1="494.01" y1="283.63" x2="499.21" y2="283.63" stroke="#6a8cc8" stroke-width="0.95"/>
<line x1="494.01" y1="287.79" x2="499.21" y2="287.79" stroke="#6a8cc8" stroke-width="0.95"/>
<circle cx="496.61" cy="285.71" r="2.75" fill="#6a8cc8"/>
<line x1="512.02" y1="279.89" x2="512.02" y2="288.20" stroke="#6a8cc8" stroke-width="0.95"/>
<line x1="509.42" y1="279.89" x2="514.62" y2="279.89" stroke="#6a8cc8" stroke-width="0.95"/>
<line x1="509.42" y1="288.20" x2="514.62" y2="288.20" stroke="#6a8cc8" stroke-width="0.95"/>
<circle cx="512.02" cy="284.04" r="2.75" fill="#6a8cc8"/>
<line x1="527.90" y1="243.72" x2="527.90" y2="260.35" stroke="#6a8cc8" stroke-width="0.95"/>
<line x1="525.30" y1="243.72" x2="530.50" y2="243.72" stroke="#6a8cc8" stroke-width="0.95"/>
<line x1="525.30" y1="260.35" x2="530.50" y2="260.35" stroke="#6a8cc8" stroke-width="0.95"/>
<circle cx="527.90" cy="252.04" r="2.75" fill="#6a8cc8"/>
<line x1="543.31" y1="243.31" x2="543.31" y2="258.27" stroke="#6a8cc8" stroke-width="0.95"/>
<line x1="540.71" y1="243.31" x2="545.91" y2="243.31" stroke="#6a8cc8" stroke-width="0.95"/>
<line x1="540.71" y1="258.27" x2="545.91" y2="258.27" stroke="#6a8cc8" stroke-width="0.95"/>
<circle cx="543.31" cy="250.79" r="2.75" fill="#6a8cc8"/>
<line x1="558.84" y1="247.88" x2="558.84" y2="254.53" stroke="#6a8cc8" stroke-width="0.95"/>
<line x1="556.24" y1="247.88" x2="561.44" y2="247.88" stroke="#6a8cc8" stroke-width="0.95"/>
<line x1="556.24" y1="254.53" x2="561.44" y2="254.53" stroke="#6a8cc8" stroke-width="0.95"/>
<circle cx="558.84" cy="251.21" r="2.75" fill="#6a8cc8"/>
<line x1="574.37" y1="202.57" x2="574.37" y2="205.07" stroke="#6a8cc8" stroke-width="0.95"/>
<line x1="571.77" y1="202.57" x2="576.97" y2="202.57" stroke="#6a8cc8" stroke-width="0.95"/>
<line x1="571.77" y1="205.07" x2="576.97" y2="205.07" stroke="#6a8cc8" stroke-width="0.95"/>
<circle cx="574.37" cy="203.82" r="2.75" fill="#6a8cc8"/>
<line x1="589.90" y1="195.09" x2="589.90" y2="201.74" stroke="#6a8cc8" stroke-width="0.95"/>
<line x1="587.30" y1="195.09" x2="592.50" y2="195.09" stroke="#6a8cc8" stroke-width="0.95"/>
<line x1="587.30" y1="201.74" x2="592.50" y2="201.74" stroke="#6a8cc8" stroke-width="0.95"/>
<circle cx="589.90" cy="198.42" r="2.75" fill="#6a8cc8"/>
<line x1="605.31" y1="190.94" x2="605.31" y2="199.25" stroke="#6a8cc8" stroke-width="0.95"/>
<line x1="602.71" y1="190.94" x2="607.91" y2="190.94" stroke="#6a8cc8" stroke-width="0.95"/>
<line x1="602.71" y1="199.25" x2="607.91" y2="199.25" stroke="#6a8cc8" stroke-width="0.95"/>
<circle cx="605.31" cy="195.09" r="2.75" fill="#6a8cc8"/>
<line x1="620.84" y1="281.55" x2="620.84" y2="284.04" stroke="#6a8cc8" stroke-width="0.95"/>
<line x1="618.24" y1="281.55" x2="623.44" y2="281.55" stroke="#6a8cc8" stroke-width="0.95"/>
<line x1="618.24" y1="284.04" x2="623.44" y2="284.04" stroke="#6a8cc8" stroke-width="0.95"/>
<circle cx="620.84" cy="282.80" r="2.75" fill="#6a8cc8"/>
<line x1="636.36" y1="281.97" x2="636.36" y2="286.95" stroke="#6a8cc8" stroke-width="0.95"/>
<line x1="633.76" y1="281.97" x2="638.96" y2="281.97" stroke="#6a8cc8" stroke-width="0.95"/>
<line x1="633.76" y1="286.95" x2="638.96" y2="286.95" stroke="#6a8cc8" stroke-width="0.95"/>
<circle cx="636.36" cy="284.46" r="2.75" fill="#6a8cc8"/>
<line x1="651.54" y1="281.55" x2="651.54" y2="284.04" stroke="#6a8cc8" stroke-width="0.95"/>
<line x1="648.94" y1="281.55" x2="654.14" y2="281.55" stroke="#6a8cc8" stroke-width="0.95"/>
<line x1="648.94" y1="284.04" x2="654.14" y2="284.04" stroke="#6a8cc8" stroke-width="0.95"/>
<circle cx="651.54" cy="282.80" r="2.75" fill="#6a8cc8"/>
<line x1="478.40" y1="184.10" x2="478.40" y2="310.00" stroke="#1a1a1a" stroke-width="1.3"/>
<line x1="477.80" y1="309.40" x2="665.20" y2="309.40" stroke="#1a1a1a" stroke-width="1.3"/>
<line x1="473.00" y1="309.40" x2="478.40" y2="309.40" stroke="#1a1a1a" stroke-width="1.3"/>
<text transform="translate(471.20 312.70)" font-size="9.2" text-anchor="end" font-weight="bold" stroke="#111" stroke-width="0.22" fill="#111" >0</text>
<line x1="473.00" y1="267.83" x2="478.40" y2="267.83" stroke="#1a1a1a" stroke-width="1.3"/>
<text transform="translate(471.20 271.13)" font-size="9.2" text-anchor="end" font-weight="bold" stroke="#111" stroke-width="0.22" fill="#111" >100</text>
<line x1="473.00" y1="226.27" x2="478.40" y2="226.27" stroke="#1a1a1a" stroke-width="1.3"/>
<text transform="translate(471.20 229.57)" font-size="9.2" text-anchor="end" font-weight="bold" stroke="#111" stroke-width="0.22" fill="#111" >200</text>
<line x1="473.00" y1="184.70" x2="478.40" y2="184.70" stroke="#1a1a1a" stroke-width="1.3"/>
<text transform="translate(471.20 188.00)" font-size="9.2" text-anchor="end" font-weight="bold" stroke="#111" stroke-width="0.22" fill="#111" >300</text>
<line x1="478.40" y1="309.40" x2="478.40" y2="313.90" stroke="#1a1a1a" stroke-width="1.2"/>
<text transform="translate(478.40 325.50)" font-size="9.2" text-anchor="middle" font-weight="bold" stroke="#111" stroke-width="0.22" fill="#111" >0</text>
<line x1="525.10" y1="309.40" x2="525.10" y2="313.90" stroke="#1a1a1a" stroke-width="1.2"/>
<text transform="translate(525.10 325.50)" font-size="9.2" text-anchor="middle" font-weight="bold" stroke="#111" stroke-width="0.22" fill="#111" >20</text>
<line x1="571.80" y1="309.40" x2="571.80" y2="313.90" stroke="#1a1a1a" stroke-width="1.2"/>
<text transform="translate(571.80 325.50)" font-size="9.2" text-anchor="middle" font-weight="bold" stroke="#111" stroke-width="0.22" fill="#111" >40</text>
<line x1="618.50" y1="309.40" x2="618.50" y2="313.90" stroke="#1a1a1a" stroke-width="1.2"/>
<text transform="translate(618.50 325.50)" font-size="9.2" text-anchor="middle" font-weight="bold" stroke="#111" stroke-width="0.22" fill="#111" >60</text>
<line x1="665.20" y1="309.40" x2="665.20" y2="313.90" stroke="#1a1a1a" stroke-width="1.2"/>
<text transform="translate(665.20 325.50)" font-size="9.2" text-anchor="middle" font-weight="bold" stroke="#111" stroke-width="0.22" fill="#111" >80</text>
<text transform="translate(571.80 340.00)" font-size="10.4" text-anchor="middle" stroke="#111" stroke-width="0.12" fill="#111" >Time (min)</text>
<text transform="translate(450.20 246.00) rotate(-90)" font-size="10.2" text-anchor="middle" stroke="#111" stroke-width="0.12" fill="#111" >ECAR (mpH/min)</text>
<line x1="486.50" y1="177.50" x2="499.80" y2="177.50" stroke="#6a8cc8" stroke-width="1.3"/>
<circle cx="493.15" cy="177.50" r="2.4" fill="#6a8cc8"/>
<text transform="translate(507.40 181.10)" font-size="10.0" text-anchor="start" stroke="#111" stroke-width="0.12" fill="#111" >sh-NC</text>
<line x1="486.50" y1="194.60" x2="499.80" y2="194.60" stroke="#9dbb9e" stroke-width="1.3"/>
<rect x="490.65" y="192.10" width="5" height="5" fill="#9dbb9e"/>
<text transform="translate(507.40 198.20)" font-size="10.0" text-anchor="start" stroke="#111" stroke-width="0.12" fill="#111" >sh-HKDC1</text>
<line x1="512.00" y1="263.70" x2="512.00" y2="272.50" stroke="#1a1a1a" stroke-width="1.45"/>
<polygon points="509.30,270.50 514.70,270.50 512.00,276.50" fill="#111"/>
<text transform="translate(508.20 260.50)" font-size="8.5" text-anchor="middle" stroke="#111" stroke-width="0.12" fill="#111" >Glucose</text>
<line x1="558.20" y1="230.00" x2="558.20" y2="238.30" stroke="#1a1a1a" stroke-width="1.45"/>
<polygon points="555.50,236.30 560.90,236.30 558.20,242.30" fill="#111"/>
<text transform="translate(544.50 228.60)" font-size="8.5" text-anchor="middle" stroke="#111" stroke-width="0.12" fill="#111" >Oligomycin</text>
<line x1="605.20" y1="176.40" x2="605.20" y2="184.20" stroke="#1a1a1a" stroke-width="1.45"/>
<polygon points="602.50,182.20 607.90,182.20 605.20,188.20" fill="#111"/>
<text transform="translate(605.20 174.90)" font-size="8.5" text-anchor="middle" stroke="#111" stroke-width="0.12" fill="#111" >2-DG</text>
<text transform="translate(189.40 291.40)" font-size="4.8" text-anchor="middle" stroke="#111" stroke-width="0.12" fill="#111" >0.46</text>
<defs><filter id="bl" x="-50%" y="-80%" width="200%" height="260%"><feGaussianBlur stdDeviation="0.75"/></filter><filter id="bl2" x="-50%" y="-50%" width="200%" height="200%"><feGaussianBlur stdDeviation="0.5"/></filter><linearGradient id="lg1" x1="0" y1="0" x2="0" y2="1"><stop offset="0" stop-color="#707070"/><stop offset="0.55" stop-color="#202020"/><stop offset="1" stop-color="#000"/></linearGradient></defs>
<rect x="45.50" y="192.50" width="33.00" height="16.6" fill="#e6e6e6" stroke="#6a6a6a" stroke-width="0.9"/>
<g filter="url(#bl)">
<rect x="50.80" y="197.60" width="10.40" height="6.00" rx="2.20" fill="#000000"/>
<rect x="63.30" y="198.70" width="9.40" height="4.60" rx="2.00" fill="#666666"/>
</g>
<rect x="89.50" y="192.50" width="33.00" height="16.6" fill="#9c9c9c" stroke="#6a6a6a" stroke-width="0.9"/>
<g filter="url(#bl)">
<rect x="95.40" y="198.40" width="10.00" height="4.80" rx="2.10" fill="#000000"/>
<rect x="108.55" y="199.20" width="8.10" height="3.60" rx="1.50" fill="#7f7f7f"/>
</g>
<text transform="translate(25.20 204.15)" font-size="8.5" text-anchor="middle" stroke="#111" stroke-width="0.12" fill="#111" >HK2</text>
<text transform="translate(147.80 204.15)" font-size="8.5" text-anchor="middle" stroke="#111" stroke-width="0.12" fill="#111" >102kDa</text>
<text transform="translate(55.10 211.90)" font-size="5.4" text-anchor="middle" stroke="#111" stroke-width="0.2" fill="#111" >1</text>
<text transform="translate(68.40 211.90)" font-size="5.4" text-anchor="middle" stroke="#111" stroke-width="0.2" fill="#111" >0.46</text>
<text transform="translate(99.40 211.90)" font-size="5.4" text-anchor="middle" stroke="#111" stroke-width="0.2" fill="#111" >1</text>
<text transform="translate(112.00 211.90)" font-size="5.4" text-anchor="middle" stroke="#111" stroke-width="0.2" fill="#111" >0.31</text>
<rect x="45.50" y="213.50" width="33.00" height="16.6" fill="#a6a6a6" stroke="#6a6a6a" stroke-width="0.9"/>
<g filter="url(#bl)">
<rect x="50.30" y="218.50" width="9.60" height="2.80" rx="1.10" fill="#000000"/>
<rect x="62.70" y="218.70" width="9.20" height="2.60" rx="1.00" fill="#222222"/>
</g>
<rect x="89.50" y="213.50" width="33.00" height="16.6" fill="#fbfbfb" stroke="#6a6a6a" stroke-width="0.9"/>
<g filter="url(#bl)">
<rect x="94.70" y="219.80" width="10.60" height="3.60" rx="1.50" fill="#2a2a2a"/>
<rect x="107.00" y="220.00" width="8.20" height="3.20" rx="1.30" fill="#3b3b3b"/>
</g>
<text transform="translate(25.20 225.15)" font-size="8.5" text-anchor="middle" stroke="#111" stroke-width="0.12" fill="#111" >GLUT4</text>
<text transform="translate(147.80 225.15)" font-size="8.5" text-anchor="middle" stroke="#111" stroke-width="0.12" fill="#111" >56kDa</text>
<text transform="translate(55.10 232.90)" font-size="5.4" text-anchor="middle" stroke="#111" stroke-width="0.2" fill="#111" >1</text>
<text transform="translate(68.40 232.90)" font-size="5.4" text-anchor="middle" stroke="#111" stroke-width="0.2" fill="#111" >0.53</text>
<text transform="translate(99.40 232.90)" font-size="5.4" text-anchor="middle" stroke="#111" stroke-width="0.2" fill="#111" >1</text>
<text transform="translate(112.00 232.90)" font-size="5.4" text-anchor="middle" stroke="#111" stroke-width="0.2" fill="#111" >0.70</text>
<rect x="45.50" y="234.50" width="33.00" height="16.6" fill="#e4e4e4" stroke="#6a6a6a" stroke-width="0.9"/>
<g filter="url(#bl)">
<rect x="50.90" y="239.40" width="10.40" height="4.80" rx="2.10" fill="#000000"/>
<rect x="62.90" y="240.20" width="9.20" height="3.60" rx="1.50" fill="#444444"/>
</g>
<rect x="89.50" y="234.50" width="33.00" height="16.6" fill="#e6e6e6" stroke="#6a6a6a" stroke-width="0.9"/>
<g filter="url(#bl)">
<rect x="94.85" y="239.40" width="11.10" height="5.60" rx="2.20" fill="#000000"/>
<rect x="107.40" y="239.60" width="8.40" height="5.20" rx="2.20" fill="#000000"/>
</g>
<text transform="translate(25.20 245.75)" font-size="8.5" text-anchor="middle" stroke="#111" stroke-width="0.12" fill="#111" >ENO1</text>
<text transform="translate(147.80 245.75)" font-size="8.5" text-anchor="middle" stroke="#111" stroke-width="0.12" fill="#111" >47kDa</text>
<text transform="translate(55.10 253.50)" font-size="5.4" text-anchor="middle" stroke="#111" stroke-width="0.2" fill="#111" >1</text>
<text transform="translate(68.40 253.50)" font-size="5.4" text-anchor="middle" stroke="#111" stroke-width="0.2" fill="#111" >0.49</text>
<text transform="translate(99.40 253.50)" font-size="5.4" text-anchor="middle" stroke="#111" stroke-width="0.2" fill="#111" >1</text>
<text transform="translate(112.00 253.50)" font-size="5.4" text-anchor="middle" stroke="#111" stroke-width="0.2" fill="#111" >0.70</text>
<rect x="45.50" y="254.50" width="33.00" height="16.6" fill="#dedede" stroke="#6a6a6a" stroke-width="0.9"/>
<g filter="url(#bl)">
<rect x="51.30" y="258.80" width="10.80" height="7.60" rx="2.20" fill="url(#lg1)"/>
<rect x="63.35" y="258.30" width="9.50" height="6.00" rx="2.20" fill="#000000"/>
</g>
<rect x="89.50" y="254.50" width="33.00" height="16.6" fill="#dcdcdc" stroke="#6a6a6a" stroke-width="0.9"/>
<g filter="url(#bl)">
<rect x="94.85" y="259.00" width="11.10" height="8.00" rx="2.20" fill="url(#lg1)"/>
<rect x="107.35" y="258.30" width="9.10" height="5.40" rx="2.20" fill="#000000"/>
</g>
<text transform="translate(25.20 266.15)" font-size="8.5" text-anchor="middle" stroke="#111" stroke-width="0.12" fill="#111" >LDH&#945;</text>
<text transform="translate(147.80 266.15)" font-size="8.5" text-anchor="middle" stroke="#111" stroke-width="0.12" fill="#111" >37kDa</text>
<text transform="translate(55.10 273.90)" font-size="5.4" text-anchor="middle" stroke="#111" stroke-width="0.2" fill="#111" >1</text>
<text transform="translate(68.40 273.90)" font-size="5.4" text-anchor="middle" stroke="#111" stroke-width="0.2" fill="#111" >0.85</text>
<text transform="translate(99.40 273.90)" font-size="5.4" text-anchor="middle" stroke="#111" stroke-width="0.2" fill="#111" >1</text>
<text transform="translate(112.00 273.90)" font-size="5.4" text-anchor="middle" stroke="#111" stroke-width="0.2" fill="#111" >0.77</text>
<rect x="45.50" y="275.50" width="33.00" height="16.6" fill="#e0e0e0" stroke="#6a6a6a" stroke-width="0.9"/>
<g filter="url(#bl)">
<rect x="53.45" y="280.50" width="8.50" height="4.20" rx="1.80" fill="#000000"/>
<rect x="64.70" y="281.50" width="7.80" height="3.00" rx="1.20" fill="#909090"/>
</g>
<rect x="89.50" y="275.50" width="33.00" height="16.6" fill="#e2e2e2" stroke="#6a6a6a" stroke-width="0.9"/>
<g filter="url(#bl)">
<rect x="94.90" y="281.10" width="9.80" height="3.80" rx="1.60" fill="#000000"/>
<rect x="107.40" y="281.60" width="7.80" height="2.80" rx="1.10" fill="#7f7f7f"/>
</g>
<text transform="translate(25.20 286.85)" font-size="8.5" text-anchor="middle" stroke="#111" stroke-width="0.12" fill="#111" >PGAM1</text>
<text transform="translate(147.80 286.85)" font-size="8.5" text-anchor="middle" stroke="#111" stroke-width="0.12" fill="#111" >29kDa</text>
<text transform="translate(55.10 294.60)" font-size="5.4" text-anchor="middle" stroke="#111" stroke-width="0.2" fill="#111" >1</text>
<text transform="translate(68.40 294.60)" font-size="5.4" text-anchor="middle" stroke="#111" stroke-width="0.2" fill="#111" >0.37</text>
<text transform="translate(99.40 294.60)" font-size="5.4" text-anchor="middle" stroke="#111" stroke-width="0.2" fill="#111" >1</text>
<text transform="translate(112.00 294.60)" font-size="5.4" text-anchor="middle" stroke="#111" stroke-width="0.2" fill="#111" >0.35</text>
<rect x="45.50" y="295.50" width="33.00" height="16.6" fill="#b4b4b4" stroke="#6a6a6a" stroke-width="0.9"/>
<g filter="url(#bl)">
<rect x="50.50" y="301.80" width="10.20" height="3.60" rx="1.50" fill="#000000"/>
<rect x="63.40" y="301.20" width="8.40" height="3.00" rx="1.20" fill="#222222"/>
</g>
<rect x="89.50" y="295.50" width="33.00" height="16.6" fill="#b6b6b6" stroke="#6a6a6a" stroke-width="0.9"/>
<g filter="url(#bl)">
<rect x="95.50" y="301.70" width="9.80" height="3.80" rx="1.60" fill="#111111"/>
<rect x="107.70" y="301.90" width="8.60" height="3.00" rx="1.20" fill="#5d5d5d"/>
</g>
<text transform="translate(25.20 307.15)" font-size="8.5" text-anchor="middle" stroke="#111" stroke-width="0.12" fill="#111" >HKDC1</text>
<text transform="translate(147.80 307.15)" font-size="8.5" text-anchor="middle" stroke="#111" stroke-width="0.12" fill="#111" >120kDa</text>
<text transform="translate(55.10 314.90)" font-size="5.4" text-anchor="middle" stroke="#111" stroke-width="0.2" fill="#111" >1</text>
<text transform="translate(68.40 314.90)" font-size="5.4" text-anchor="middle" stroke="#111" stroke-width="0.2" fill="#111" >0.46</text>
<text transform="translate(99.40 314.90)" font-size="5.4" text-anchor="middle" stroke="#111" stroke-width="0.2" fill="#111" >1</text>
<text transform="translate(112.00 314.90)" font-size="5.4" text-anchor="middle" stroke="#111" stroke-width="0.2" fill="#111" >0.55</text>
<rect x="45.50" y="316.50" width="33.00" height="16.6" fill="#e4e4e4" stroke="#6a6a6a" stroke-width="0.9"/>
<g filter="url(#bl)">
<rect x="50.90" y="322.20" width="9.80" height="4.20" rx="1.80" fill="#000000"/>
<rect x="62.25" y="322.30" width="9.50" height="4.20" rx="1.80" fill="#000000"/>
</g>
<rect x="89.50" y="316.50" width="33.00" height="16.6" fill="#ececec" stroke="#6a6a6a" stroke-width="0.9"/>
<g filter="url(#bl)">
<rect x="93.80" y="322.20" width="10.20" height="3.60" rx="1.50" fill="#000000"/>
<rect x="106.35" y="322.50" width="10.10" height="3.40" rx="1.40" fill="#000000"/>
</g>
<text transform="translate(25.20 327.95)" font-size="8.5" text-anchor="middle" stroke="#111" stroke-width="0.12" fill="#111" >&#946;-actin</text>
<text transform="translate(147.80 327.95)" font-size="8.5" text-anchor="middle" stroke="#111" stroke-width="0.12" fill="#111" >43kDa</text>
<text transform="translate(62.00 344.60)" font-size="8.6" text-anchor="middle" stroke="#111" stroke-width="0.12" fill="#111" >BGC-823</text>
<text transform="translate(106.00 344.60)" font-size="8.6" text-anchor="middle" stroke="#111" stroke-width="0.12" fill="#111" >AGS</text>
<text transform="translate(55.00 187.00) rotate(-40)" font-size="8.5" text-anchor="start" stroke="#111" stroke-width="0.12" fill="#111" >sh-NC</text>
<text transform="translate(68.70 187.00) rotate(-40)" font-size="8.5" text-anchor="start" stroke="#111" stroke-width="0.12" fill="#111" >sh-HKDC1</text>
<text transform="translate(99.20 187.00) rotate(-40)" font-size="8.5" text-anchor="start" stroke="#111" stroke-width="0.12" fill="#111" >sh-NC</text>
<text transform="translate(112.80 187.00) rotate(-40)" font-size="8.5" text-anchor="start" stroke="#111" stroke-width="0.12" fill="#111" >sh-HKDC1</text>
<text transform="translate(1.00 10.60)" font-size="13.4" text-anchor="start" stroke="#111" stroke-width="0.12" fill="#111" >A</text>
<text transform="translate(167.00 10.70)" font-size="13.4" text-anchor="start" stroke="#111" stroke-width="0.12" fill="#111" >B</text>
<text transform="translate(334.00 10.60)" font-size="13.4" text-anchor="start" stroke="#111" stroke-width="0.12" fill="#111" >C</text>
<text transform="translate(500.50 10.60)" font-size="13.4" text-anchor="start" stroke="#111" stroke-width="0.12" fill="#111" >D</text>
<text transform="translate(2.30 167.00)" font-size="13.4" text-anchor="start" stroke="#111" stroke-width="0.12" fill="#111" >E</text>
<text transform="translate(197.20 166.80)" font-size="13.4" text-anchor="start" stroke="#111" stroke-width="0.12" fill="#111" >F</text>
<text transform="translate(441.80 167.00)" font-size="13.4" text-anchor="start" stroke="#111" stroke-width="0.12" fill="#111" >G</text>
<text transform="translate(2.10 369.00)" font-size="13.4" text-anchor="start" stroke="#111" stroke-width="0.12" fill="#111" >H</text>
<text transform="translate(354.50 369.00)" font-size="13.4" text-anchor="start" stroke="#111" stroke-width="0.12" fill="#111" >I</text>
<text transform="translate(2.10 541.00)" font-size="13.4" text-anchor="start" stroke="#111" stroke-width="0.12" fill="#111" >J</text>
<text transform="translate(354.50 541.50)" font-size="13.4" text-anchor="start" stroke="#111" stroke-width="0.12" fill="#111" >K</text>
</svg></body></html>
